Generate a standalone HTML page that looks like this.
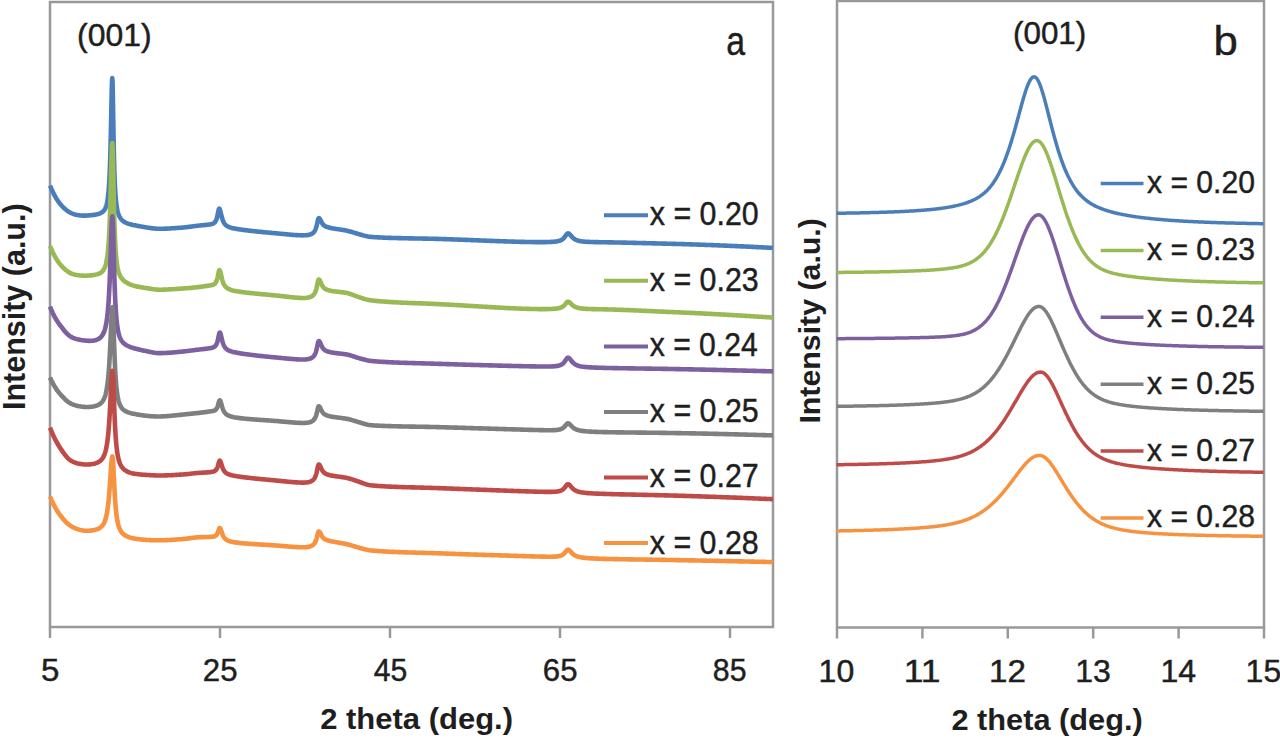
<!DOCTYPE html><html><head><meta charset="utf-8"><style>html,body{margin:0;padding:0;background:#fff;overflow:hidden}svg{display:block}text{font-family:"Liberation Sans",sans-serif;fill:#1e1e1e;stroke:#1e1e1e;stroke-width:0.45px}text.bd{stroke-width:0px;font-weight:bold}</style></head><body>
<svg width="1280" height="741" viewBox="0 0 1280 741">
<rect width="1280" height="741" fill="#fff"/>
<g>
<rect x="50" y="2" width="723" height="625" fill="none" stroke="#999999" stroke-width="2.5"/>
<line x1="50" y1="627" x2="50" y2="638" stroke="#999999" stroke-width="2.5"/>
<line x1="220" y1="627" x2="220" y2="638" stroke="#999999" stroke-width="2.5"/>
<line x1="390" y1="627" x2="390" y2="638" stroke="#999999" stroke-width="2.5"/>
<line x1="560" y1="627" x2="560" y2="638" stroke="#999999" stroke-width="2.5"/>
<line x1="730" y1="627" x2="730" y2="638" stroke="#999999" stroke-width="2.5"/>
<rect x="837" y="1" width="427" height="626.5" fill="none" stroke="#999999" stroke-width="2.5"/>
<line x1="837.0" y1="627.5" x2="837.0" y2="638.5" stroke="#999999" stroke-width="2.5"/>
<line x1="922.4" y1="627.5" x2="922.4" y2="638.5" stroke="#999999" stroke-width="2.5"/>
<line x1="1007.8" y1="627.5" x2="1007.8" y2="638.5" stroke="#999999" stroke-width="2.5"/>
<line x1="1093.2" y1="627.5" x2="1093.2" y2="638.5" stroke="#999999" stroke-width="2.5"/>
<line x1="1178.6" y1="627.5" x2="1178.6" y2="638.5" stroke="#999999" stroke-width="2.5"/>
<line x1="1264.0" y1="627.5" x2="1264.0" y2="638.5" stroke="#999999" stroke-width="2.5"/>
<polyline fill="none" stroke="#4A7EBB" stroke-width="4.6" stroke-linejoin="round" stroke-linecap="butt" points="50.00,185.64 51.00,187.96 52.00,190.19 53.00,192.32 54.00,194.32 55.00,196.19 56.00,197.93 57.00,199.55 58.00,201.04 59.00,202.43 60.00,203.71 61.00,204.90 62.00,206.01 63.00,207.05 64.00,208.02 65.00,208.93 66.00,209.78 67.00,210.56 68.00,211.28 69.00,211.92 70.00,212.50 71.00,213.00 72.00,213.44 73.00,213.82 74.00,214.15 75.00,214.44 76.00,214.69 77.00,214.91 78.00,215.10 79.00,215.27 80.00,215.40 81.00,215.50 82.00,215.57 83.00,215.61 84.00,215.63 85.00,215.62 86.00,215.59 87.00,215.54 88.00,215.48 89.00,215.40 90.00,215.32 91.00,215.22 92.00,215.11 93.00,214.99 94.00,214.85 95.00,214.69 96.00,214.50 97.00,214.29 98.00,214.03 99.00,213.72 100.00,213.35 100.30,213.23 100.55,213.12 100.80,213.00 101.00,212.90 101.05,212.87 101.30,212.74 101.55,212.60 101.80,212.44 102.00,212.31 102.05,212.28 102.30,212.11 102.55,211.92 102.80,211.71 103.00,211.54 103.05,211.49 103.30,211.26 103.55,211.00 103.80,210.71 104.00,210.47 104.05,210.40 104.30,210.06 104.55,209.69 104.80,209.28 105.00,208.92 105.05,208.83 105.30,208.32 105.55,207.77 105.80,207.14 106.00,206.59 106.05,206.45 106.30,205.66 106.55,204.79 106.80,203.79 107.00,202.90 107.05,202.67 107.30,201.39 107.55,199.93 107.80,198.25 108.00,196.73 108.05,196.33 108.30,194.10 108.55,191.51 108.80,188.49 109.00,185.71 109.05,184.96 109.30,180.80 109.55,175.91 109.80,170.13 110.00,164.77 110.05,163.31 110.30,155.31 110.55,145.99 110.80,135.33 111.00,125.93 111.05,123.49 111.30,110.93 111.55,98.61 111.80,87.92 112.00,81.70 112.05,80.57 112.30,77.99 112.55,81.90 112.80,92.30 113.00,103.51 113.05,106.52 113.30,121.83 113.55,136.36 113.80,149.19 114.00,158.06 114.05,160.09 114.30,169.17 114.55,176.66 114.80,182.84 115.00,187.00 115.05,187.95 115.30,192.20 115.55,195.75 115.80,198.75 116.00,200.82 116.05,201.30 116.30,203.48 116.55,205.36 116.80,207.00 117.00,208.16 117.05,208.43 117.30,209.69 117.55,210.81 117.80,211.80 118.00,212.52 118.05,212.69 118.30,213.50 118.55,214.23 118.80,214.89 119.00,215.38 119.05,215.50 119.30,216.06 119.55,216.57 119.80,217.04 120.00,217.40 120.05,217.48 120.30,217.89 120.55,218.27 120.80,218.63 121.00,218.89 121.05,218.96 121.30,219.27 121.55,219.56 121.80,219.84 122.00,220.05 122.05,220.10 122.30,220.35 122.55,220.58 122.80,220.80 123.00,220.97 123.05,221.01 123.30,221.20 123.55,221.39 123.80,221.57 124.00,221.71 124.05,221.74 125.00,222.31 126.00,222.81 127.00,223.24 128.00,223.60 129.00,223.91 130.00,224.19 131.00,224.45 132.00,224.69 133.00,224.91 134.00,225.13 135.00,225.34 136.00,225.54 137.00,225.74 138.00,225.93 139.00,226.12 140.00,226.31 141.00,226.49 142.00,226.67 143.00,226.84 144.00,227.02 145.00,227.18 146.00,227.34 147.00,227.50 148.00,227.66 149.00,227.81 150.00,227.96 151.00,228.10 152.00,228.24 153.00,228.37 154.00,228.48 155.00,228.58 156.00,228.65 157.00,228.71 158.00,228.74 159.00,228.76 160.00,228.77 161.00,228.76 162.00,228.75 163.00,228.72 164.00,228.70 165.00,228.66 166.00,228.62 167.00,228.58 168.00,228.53 169.00,228.48 170.00,228.43 171.00,228.37 172.00,228.31 173.00,228.25 174.00,228.19 175.00,228.12 176.00,228.05 177.00,227.98 178.00,227.90 179.00,227.83 180.00,227.75 181.00,227.67 182.00,227.59 183.00,227.51 184.00,227.42 185.00,227.33 186.00,227.23 187.00,227.12 188.00,227.00 189.00,226.88 190.00,226.74 191.00,226.61 192.00,226.47 193.00,226.32 194.00,226.18 195.00,226.05 196.00,225.92 197.00,225.79 198.00,225.68 199.00,225.57 200.00,225.47 201.00,225.37 202.00,225.28 203.00,225.18 204.00,225.09 205.00,225.00 206.00,224.90 207.00,224.80 207.30,224.77 207.55,224.74 207.80,224.71 208.00,224.69 208.05,224.68 208.30,224.65 208.55,224.62 208.80,224.59 209.00,224.56 209.05,224.55 209.30,224.52 209.55,224.48 209.80,224.44 210.00,224.41 210.05,224.40 210.30,224.36 210.55,224.32 210.80,224.27 211.00,224.23 211.05,224.21 211.30,224.16 211.55,224.10 211.80,224.03 212.00,223.97 212.05,223.96 212.30,223.88 212.55,223.79 212.80,223.69 213.00,223.60 213.05,223.58 213.30,223.46 213.55,223.32 213.80,223.17 214.00,223.03 214.05,222.99 214.30,222.79 214.55,222.57 214.80,222.31 215.00,222.08 215.05,222.02 215.30,221.68 215.55,221.29 215.80,220.84 216.00,220.44 216.05,220.33 216.30,219.74 216.55,219.05 216.80,218.27 217.00,217.57 217.05,217.38 217.30,216.37 217.55,215.26 217.80,214.05 218.00,213.04 218.05,212.78 218.30,211.53 218.55,210.38 218.80,209.44 219.00,208.93 219.05,208.84 219.30,208.66 219.55,208.86 219.80,209.32 220.00,209.86 220.05,210.01 220.30,210.89 220.55,211.89 220.80,212.96 221.00,213.83 221.05,214.05 221.30,215.12 221.55,216.15 221.80,217.12 222.00,217.84 222.05,218.02 222.30,218.84 222.55,219.60 222.80,220.29 223.00,220.80 223.05,220.92 223.30,221.49 223.55,222.01 223.80,222.48 224.00,222.83 224.05,222.91 224.30,223.30 224.55,223.66 224.80,223.99 225.00,224.23 225.05,224.29 225.30,224.56 225.55,224.82 225.80,225.05 226.00,225.23 226.05,225.27 226.30,225.47 226.55,225.66 226.80,225.84 227.00,225.97 227.05,226.00 227.30,226.15 227.55,226.30 227.80,226.43 228.00,226.54 228.05,226.56 228.30,226.68 228.55,226.80 228.80,226.91 229.00,226.99 229.05,227.01 229.30,227.11 229.55,227.21 229.80,227.30 230.00,227.36 230.05,227.38 230.30,227.46 230.55,227.54 230.80,227.62 231.00,227.68 231.05,227.69 232.00,227.95 233.00,228.19 234.00,228.41 235.00,228.61 236.00,228.80 237.00,228.97 238.00,229.14 239.00,229.29 240.00,229.44 241.00,229.59 242.00,229.73 243.00,229.87 244.00,230.00 245.00,230.13 246.00,230.25 247.00,230.38 248.00,230.50 249.00,230.61 250.00,230.73 251.00,230.84 252.00,230.96 253.00,231.07 254.00,231.18 255.00,231.28 256.00,231.39 257.00,231.49 258.00,231.60 259.00,231.70 260.00,231.80 261.00,231.90 262.00,232.00 263.00,232.09 264.00,232.19 265.00,232.29 266.00,232.38 267.00,232.48 268.00,232.57 269.00,232.66 270.00,232.75 271.00,232.84 272.00,232.93 273.00,233.02 274.00,233.11 275.00,233.21 276.00,233.30 277.00,233.39 278.00,233.48 279.00,233.58 280.00,233.67 281.00,233.77 282.00,233.87 283.00,233.97 284.00,234.06 285.00,234.16 286.00,234.26 287.00,234.35 288.00,234.45 289.00,234.54 290.00,234.63 291.00,234.71 292.00,234.80 293.00,234.88 294.00,234.95 295.00,235.02 296.00,235.09 297.00,235.15 298.00,235.20 299.00,235.25 300.00,235.28 301.00,235.31 302.00,235.33 303.00,235.33 304.00,235.32 305.00,235.28 306.00,235.23 306.70,235.16 306.95,235.14 307.00,235.13 307.20,235.11 307.45,235.08 307.70,235.04 307.95,235.00 308.00,235.00 308.20,234.96 308.45,234.92 308.70,234.87 308.95,234.82 309.00,234.80 309.20,234.76 309.45,234.69 309.70,234.63 309.95,234.55 310.00,234.54 310.20,234.47 310.45,234.39 310.70,234.29 310.95,234.19 311.00,234.17 311.20,234.08 311.45,233.96 311.70,233.84 311.95,233.70 312.00,233.67 312.20,233.54 312.45,233.38 312.70,233.20 312.95,233.00 313.00,232.96 313.20,232.79 313.45,232.55 313.70,232.29 313.95,232.00 314.00,231.93 314.20,231.67 314.45,231.32 314.70,230.92 314.95,230.48 315.00,230.38 315.20,229.98 315.45,229.42 315.70,228.80 315.95,228.10 316.00,227.95 316.20,227.31 316.45,226.44 316.70,225.47 316.95,224.43 317.00,224.21 317.20,223.31 317.45,222.16 317.70,221.03 317.95,219.98 318.00,219.79 318.20,219.10 318.45,218.48 318.70,218.18 318.95,218.11 319.00,218.11 319.20,218.18 319.45,218.37 319.70,218.67 319.95,219.05 320.00,219.13 320.20,219.50 320.45,219.99 320.70,220.50 320.95,221.01 321.00,221.12 321.20,221.52 321.45,222.02 321.70,222.49 321.95,222.93 322.00,223.01 322.20,223.33 322.45,223.71 322.70,224.06 322.95,224.37 323.00,224.43 323.20,224.66 323.45,224.92 323.70,225.16 323.95,225.38 324.00,225.42 324.20,225.57 324.45,225.75 324.70,225.92 324.95,226.07 325.00,226.09 325.20,226.20 325.45,226.33 325.70,226.45 325.95,226.56 326.00,226.58 326.20,226.67 326.45,226.76 326.70,226.86 326.95,226.94 327.00,226.96 327.20,227.03 327.45,227.11 327.70,227.19 327.95,227.26 328.00,227.28 328.20,227.33 328.45,227.40 328.70,227.47 328.95,227.54 329.00,227.55 329.20,227.60 329.45,227.66 329.70,227.72 329.95,227.78 330.00,227.79 330.20,227.84 330.45,227.89 331.00,228.01 332.00,228.21 333.00,228.40 334.00,228.57 335.00,228.74 336.00,228.90 337.00,229.05 338.00,229.20 339.00,229.35 340.00,229.50 341.00,229.65 342.00,229.80 343.00,229.96 344.00,230.12 345.00,230.30 346.00,230.50 347.00,230.71 348.00,230.94 349.00,231.19 350.00,231.46 351.00,231.74 352.00,232.04 353.00,232.34 354.00,232.65 355.00,232.95 356.00,233.26 357.00,233.56 358.00,233.86 359.00,234.16 360.00,234.46 361.00,234.76 362.00,235.05 363.00,235.34 364.00,235.61 365.00,235.87 366.00,236.11 367.00,236.32 368.00,236.51 369.00,236.67 370.00,236.80 371.00,236.91 372.00,237.00 373.00,237.08 374.00,237.14 375.00,237.21 376.00,237.26 377.00,237.32 378.00,237.37 379.00,237.42 380.00,237.47 381.00,237.51 382.00,237.56 383.00,237.60 384.00,237.64 385.00,237.68 386.00,237.72 387.00,237.76 388.00,237.80 389.00,237.83 390.00,237.87 391.00,237.90 392.00,237.93 393.00,237.96 394.00,237.99 395.00,238.02 396.00,238.04 397.00,238.07 398.00,238.10 399.00,238.12 400.00,238.15 401.00,238.17 402.00,238.19 403.00,238.21 404.00,238.23 405.00,238.26 406.00,238.28 407.00,238.30 408.00,238.32 409.00,238.33 410.00,238.35 411.00,238.37 412.00,238.39 413.00,238.41 414.00,238.43 415.00,238.44 416.00,238.46 417.00,238.48 418.00,238.50 419.00,238.51 420.00,238.53 421.00,238.55 422.00,238.57 423.00,238.59 424.00,238.60 425.00,238.62 426.00,238.64 427.00,238.66 428.00,238.68 429.00,238.70 430.00,238.73 431.00,238.75 432.00,238.77 433.00,238.79 434.00,238.82 435.00,238.84 436.00,238.87 437.00,238.89 438.00,238.92 439.00,238.95 440.00,238.98 441.00,239.01 442.00,239.03 443.00,239.07 444.00,239.10 445.00,239.13 446.00,239.16 447.00,239.19 448.00,239.23 449.00,239.26 450.00,239.29 451.00,239.33 452.00,239.36 453.00,239.40 454.00,239.43 455.00,239.47 456.00,239.50 457.00,239.54 458.00,239.58 459.00,239.62 460.00,239.65 461.00,239.69 462.00,239.73 463.00,239.77 464.00,239.80 465.00,239.84 466.00,239.88 467.00,239.92 468.00,239.96 469.00,240.00 470.00,240.04 471.00,240.08 472.00,240.12 473.00,240.16 474.00,240.20 475.00,240.24 476.00,240.28 477.00,240.32 478.00,240.35 479.00,240.39 480.00,240.43 481.00,240.47 482.00,240.51 483.00,240.55 484.00,240.59 485.00,240.63 486.00,240.67 487.00,240.71 488.00,240.75 489.00,240.79 490.00,240.83 491.00,240.87 492.00,240.90 493.00,240.94 494.00,240.98 495.00,241.02 496.00,241.06 497.00,241.09 498.00,241.13 499.00,241.17 500.00,241.20 501.00,241.24 502.00,241.27 503.00,241.31 504.00,241.34 505.00,241.38 506.00,241.41 507.00,241.44 508.00,241.48 509.00,241.51 510.00,241.54 511.00,241.57 512.00,241.60 513.00,241.63 514.00,241.66 515.00,241.69 516.00,241.72 517.00,241.75 518.00,241.77 519.00,241.80 520.00,241.83 521.00,241.85 522.00,241.87 523.00,241.90 524.00,241.92 525.00,241.94 526.00,241.96 527.00,241.98 528.00,242.00 529.00,242.02 530.00,242.03 531.00,242.05 532.00,242.06 533.00,242.08 534.00,242.09 535.00,242.10 536.00,242.11 537.00,242.11 538.00,242.12 539.00,242.12 540.00,242.12 541.00,242.12 542.00,242.12 543.00,242.11 544.00,242.10 545.00,242.09 546.00,242.08 547.00,242.05 548.00,242.03 549.00,242.00 550.00,241.96 551.00,241.92 552.00,241.86 553.00,241.79 554.00,241.71 555.00,241.61 556.00,241.49 556.25,241.46 556.50,241.42 556.75,241.38 557.00,241.34 557.25,241.30 557.50,241.25 557.75,241.20 558.00,241.15 558.25,241.10 558.50,241.04 558.75,240.98 559.00,240.91 559.25,240.84 559.50,240.76 559.75,240.68 560.00,240.59 560.25,240.50 560.50,240.40 560.75,240.29 561.00,240.18 561.25,240.05 561.50,239.92 561.75,239.78 562.00,239.62 562.25,239.46 562.50,239.28 562.75,239.09 563.00,238.88 563.25,238.66 563.50,238.42 563.75,238.17 564.00,237.89 564.25,237.60 564.50,237.30 564.75,236.97 565.00,236.63 565.25,236.28 565.50,235.92 565.75,235.56 566.00,235.19 566.25,234.84 566.50,234.50 566.75,234.19 567.00,233.92 567.25,233.70 567.50,233.53 567.75,233.43 568.00,233.39 568.25,233.42 568.50,233.48 568.75,233.59 569.00,233.74 569.25,233.92 569.50,234.14 569.75,234.38 570.00,234.64 570.25,234.91 570.50,235.19 570.75,235.48 571.00,235.78 571.25,236.07 571.50,236.35 571.75,236.63 572.00,236.91 572.25,237.17 572.50,237.42 572.75,237.66 573.00,237.89 573.25,238.11 573.50,238.32 573.75,238.52 574.00,238.71 574.25,238.88 574.50,239.05 574.75,239.21 575.00,239.35 575.25,239.49 575.50,239.63 575.75,239.75 576.00,239.87 576.25,239.98 576.50,240.08 576.75,240.18 577.00,240.27 577.25,240.36 577.50,240.44 577.75,240.52 578.00,240.59 578.25,240.66 578.50,240.73 578.75,240.79 579.00,240.85 579.25,240.91 579.50,240.96 579.75,241.01 580.00,241.06 581.00,241.23 582.00,241.38 583.00,241.49 584.00,241.59 585.00,241.68 586.00,241.75 587.00,241.81 588.00,241.87 589.00,241.91 590.00,241.95 591.00,241.99 592.00,242.02 593.00,242.05 594.00,242.08 595.00,242.10 596.00,242.12 597.00,242.14 598.00,242.16 599.00,242.18 600.00,242.20 601.00,242.22 602.00,242.23 603.00,242.25 604.00,242.27 605.00,242.28 606.00,242.30 607.00,242.32 608.00,242.33 609.00,242.35 610.00,242.37 611.00,242.38 612.00,242.40 613.00,242.42 614.00,242.44 615.00,242.46 616.00,242.47 617.00,242.49 618.00,242.51 619.00,242.53 620.00,242.55 621.00,242.57 622.00,242.59 623.00,242.61 624.00,242.63 625.00,242.65 626.00,242.67 627.00,242.70 628.00,242.72 629.00,242.74 630.00,242.76 631.00,242.79 632.00,242.81 633.00,242.83 634.00,242.85 635.00,242.88 636.00,242.90 637.00,242.93 638.00,242.95 639.00,242.98 640.00,243.00 641.00,243.02 642.00,243.05 643.00,243.08 644.00,243.10 645.00,243.13 646.00,243.15 647.00,243.18 648.00,243.20 649.00,243.23 650.00,243.26 651.00,243.28 652.00,243.31 653.00,243.33 654.00,243.36 655.00,243.39 656.00,243.41 657.00,243.44 658.00,243.46 659.00,243.49 660.00,243.52 661.00,243.54 662.00,243.57 663.00,243.60 664.00,243.62 665.00,243.65 666.00,243.67 667.00,243.70 668.00,243.72 669.00,243.75 670.00,243.78 671.00,243.80 672.00,243.83 673.00,243.85 674.00,243.88 675.00,243.91 676.00,243.93 677.00,243.96 678.00,243.99 679.00,244.02 680.00,244.04 681.00,244.07 682.00,244.10 683.00,244.13 684.00,244.16 685.00,244.19 686.00,244.22 687.00,244.25 688.00,244.28 689.00,244.31 690.00,244.35 691.00,244.38 692.00,244.41 693.00,244.44 694.00,244.47 695.00,244.51 696.00,244.54 697.00,244.57 698.00,244.61 699.00,244.64 700.00,244.68 701.00,244.71 702.00,244.75 703.00,244.78 704.00,244.82 705.00,244.85 706.00,244.89 707.00,244.93 708.00,244.96 709.00,245.00 710.00,245.04 711.00,245.07 712.00,245.11 713.00,245.15 714.00,245.19 715.00,245.23 716.00,245.27 717.00,245.31 718.00,245.35 719.00,245.39 720.00,245.43 721.00,245.47 722.00,245.51 723.00,245.55 724.00,245.59 725.00,245.63 726.00,245.67 727.00,245.71 728.00,245.76 729.00,245.80 730.00,245.84 731.00,245.88 732.00,245.93 733.00,245.97 734.00,246.01 735.00,246.06 736.00,246.10 737.00,246.15 738.00,246.19 739.00,246.24 740.00,246.28 741.00,246.33 742.00,246.37 743.00,246.42 744.00,246.46 745.00,246.51 746.00,246.56 747.00,246.60 748.00,246.65 749.00,246.70 750.00,246.75 751.00,246.79 752.00,246.84 753.00,246.89 754.00,246.94 755.00,246.99 756.00,247.03 757.00,247.08 758.00,247.13 759.00,247.18 760.00,247.23 761.00,247.28 762.00,247.33 763.00,247.38 764.00,247.43 765.00,247.48 766.00,247.53 767.00,247.58 768.00,247.63 769.00,247.68 770.00,247.72 771.00,247.77 772.00,247.80 773.00,247.83"/>
<polyline fill="none" stroke="#98B954" stroke-width="4.6" stroke-linejoin="round" stroke-linecap="butt" points="50.00,246.08 51.00,248.40 52.00,250.64 53.00,252.76 54.00,254.76 55.00,256.63 56.00,258.37 57.00,259.98 58.00,261.47 59.00,262.85 60.00,264.14 61.00,265.33 62.00,266.44 63.00,267.48 64.00,268.45 65.00,269.36 66.00,270.21 67.00,270.99 68.00,271.70 69.00,272.34 70.00,272.89 71.00,273.37 72.00,273.78 73.00,274.12 74.00,274.40 75.00,274.64 76.00,274.85 77.00,275.03 78.00,275.18 79.00,275.31 80.00,275.42 81.00,275.52 82.00,275.59 83.00,275.64 84.00,275.68 85.00,275.69 86.00,275.69 87.00,275.67 88.00,275.62 89.00,275.57 90.00,275.49 91.00,275.39 92.00,275.28 93.00,275.15 94.00,275.00 95.00,274.82 96.00,274.61 97.00,274.36 98.00,274.05 99.00,273.67 100.00,273.19 100.30,273.02 100.55,272.87 100.80,272.71 101.00,272.57 101.05,272.53 101.30,272.34 101.55,272.14 101.80,271.93 102.00,271.74 102.05,271.69 102.30,271.44 102.55,271.17 102.80,270.87 103.00,270.62 103.05,270.55 103.30,270.21 103.55,269.83 103.80,269.42 104.00,269.06 104.05,268.97 104.30,268.48 104.55,267.94 104.80,267.35 105.00,266.84 105.05,266.71 105.30,265.99 105.55,265.20 105.80,264.33 106.00,263.57 106.05,263.36 106.30,262.28 106.55,261.08 106.80,259.74 107.00,258.54 107.05,258.22 107.30,256.52 107.55,254.61 107.80,252.44 108.00,250.49 108.05,249.97 108.30,247.17 108.55,243.96 108.80,240.31 109.00,237.00 109.05,236.12 109.30,231.32 109.55,225.82 109.80,219.56 110.00,213.94 110.05,212.45 110.30,204.46 110.55,195.63 110.80,186.07 111.00,178.10 111.05,176.09 111.30,166.18 111.55,157.05 111.80,149.58 112.00,145.40 112.05,144.66 112.30,142.99 112.55,145.66 112.80,152.96 113.00,161.22 113.05,163.50 113.30,175.64 113.55,187.99 113.80,199.65 114.00,208.17 114.05,210.17 114.30,219.37 114.55,227.31 114.80,234.09 115.00,238.77 115.05,239.86 115.30,244.77 115.55,248.96 115.80,252.55 116.00,255.05 116.05,255.64 116.30,258.31 116.55,260.62 116.80,262.65 117.00,264.09 117.05,264.43 117.30,266.00 117.55,267.40 117.80,268.64 118.00,269.54 118.05,269.75 118.30,270.75 118.55,271.66 118.80,272.48 119.00,273.08 119.05,273.23 119.30,273.91 119.55,274.54 119.80,275.11 120.00,275.55 120.05,275.65 120.30,276.14 120.55,276.60 120.80,277.03 121.00,277.36 121.05,277.44 121.30,277.81 121.55,278.16 121.80,278.50 122.00,278.75 122.05,278.81 122.30,279.11 122.55,279.39 122.80,279.66 123.00,279.86 123.05,279.91 123.30,280.16 123.55,280.39 123.80,280.61 124.00,280.78 124.05,280.83 125.00,281.56 126.00,282.24 127.00,282.83 128.00,283.36 129.00,283.85 130.00,284.28 131.00,284.68 132.00,285.04 133.00,285.38 134.00,285.68 135.00,285.96 136.00,286.21 137.00,286.44 138.00,286.66 139.00,286.87 140.00,287.06 141.00,287.24 142.00,287.41 143.00,287.58 144.00,287.74 145.00,287.90 146.00,288.06 147.00,288.22 148.00,288.38 149.00,288.54 150.00,288.71 151.00,288.87 152.00,289.03 153.00,289.19 154.00,289.33 155.00,289.45 156.00,289.54 157.00,289.62 158.00,289.67 159.00,289.69 160.00,289.70 161.00,289.70 162.00,289.69 163.00,289.66 164.00,289.64 165.00,289.60 166.00,289.56 167.00,289.52 168.00,289.47 169.00,289.42 170.00,289.36 171.00,289.31 172.00,289.25 173.00,289.18 174.00,289.12 175.00,289.05 176.00,288.98 177.00,288.91 178.00,288.84 179.00,288.77 180.00,288.70 181.00,288.63 182.00,288.55 183.00,288.48 184.00,288.41 185.00,288.33 186.00,288.26 187.00,288.18 188.00,288.10 189.00,288.01 190.00,287.93 191.00,287.84 192.00,287.74 193.00,287.65 194.00,287.55 195.00,287.45 196.00,287.34 197.00,287.24 198.00,287.12 199.00,287.01 200.00,286.88 201.00,286.75 202.00,286.61 203.00,286.47 204.00,286.32 205.00,286.16 206.00,286.01 207.00,285.86 207.50,285.79 207.75,285.75 208.00,285.71 208.25,285.68 208.50,285.64 208.75,285.61 209.00,285.57 209.25,285.53 209.50,285.49 209.75,285.46 210.00,285.42 210.25,285.38 210.50,285.34 210.75,285.30 211.00,285.25 211.25,285.20 211.50,285.15 211.75,285.10 212.00,285.04 212.25,284.98 212.50,284.91 212.75,284.83 213.00,284.74 213.25,284.64 213.50,284.53 213.75,284.41 214.00,284.27 214.25,284.11 214.50,283.93 214.75,283.72 215.00,283.48 215.25,283.20 215.50,282.88 215.75,282.51 216.00,282.08 216.25,281.58 216.50,281.01 216.75,280.34 217.00,279.58 217.25,278.70 217.50,277.72 217.75,276.62 218.00,275.42 218.25,274.18 218.50,272.94 218.75,271.80 219.00,270.89 219.25,270.31 219.50,270.15 219.75,270.37 220.00,270.86 220.25,271.58 220.50,272.48 220.75,273.51 221.00,274.61 221.25,275.73 221.50,276.83 221.75,277.88 222.00,278.87 222.25,279.80 222.50,280.65 222.75,281.44 223.00,282.15 223.25,282.80 223.50,283.40 223.75,283.93 224.00,284.43 224.25,284.87 224.50,285.28 224.75,285.66 225.00,286.00 225.25,286.32 225.50,286.61 225.75,286.88 226.00,287.13 226.25,287.36 226.50,287.58 226.75,287.78 227.00,287.97 227.25,288.14 227.50,288.31 227.75,288.46 228.00,288.61 228.25,288.74 228.50,288.87 228.75,289.00 229.00,289.11 229.25,289.23 229.50,289.33 229.75,289.43 230.00,289.53 230.25,289.62 230.50,289.71 230.75,289.79 231.00,289.87 231.25,289.95 232.00,290.17 233.00,290.43 234.00,290.67 235.00,290.88 236.00,291.08 237.00,291.26 238.00,291.43 239.00,291.59 240.00,291.74 241.00,291.89 242.00,292.03 243.00,292.17 244.00,292.30 245.00,292.42 246.00,292.54 247.00,292.66 248.00,292.78 249.00,292.89 250.00,293.00 251.00,293.11 252.00,293.21 253.00,293.31 254.00,293.42 255.00,293.51 256.00,293.61 257.00,293.71 258.00,293.81 259.00,293.90 260.00,293.99 261.00,294.09 262.00,294.18 263.00,294.27 264.00,294.37 265.00,294.46 266.00,294.55 267.00,294.64 268.00,294.73 269.00,294.83 270.00,294.92 271.00,295.02 272.00,295.11 273.00,295.21 274.00,295.30 275.00,295.40 276.00,295.51 277.00,295.61 278.00,295.72 279.00,295.82 280.00,295.94 281.00,296.05 282.00,296.16 283.00,296.28 284.00,296.39 285.00,296.51 286.00,296.63 287.00,296.74 288.00,296.86 289.00,296.97 290.00,297.08 291.00,297.18 292.00,297.28 293.00,297.38 294.00,297.48 295.00,297.56 296.00,297.65 297.00,297.72 298.00,297.79 299.00,297.85 300.00,297.90 301.00,297.93 302.00,297.96 303.00,297.97 304.00,297.96 305.00,297.93 306.00,297.87 306.70,297.80 306.95,297.77 307.00,297.76 307.20,297.74 307.45,297.70 307.70,297.67 307.95,297.62 308.00,297.61 308.20,297.58 308.45,297.53 308.70,297.47 308.95,297.41 309.00,297.40 309.20,297.35 309.45,297.28 309.70,297.20 309.95,297.12 310.00,297.11 310.20,297.03 310.45,296.94 310.70,296.84 310.95,296.73 311.00,296.70 311.20,296.60 311.45,296.47 311.70,296.33 311.95,296.18 312.00,296.15 312.20,296.02 312.45,295.84 312.70,295.64 312.95,295.43 313.00,295.38 313.20,295.19 313.45,294.94 313.70,294.65 313.95,294.34 314.00,294.27 314.20,294.00 314.45,293.61 314.70,293.19 314.95,292.71 315.00,292.61 315.20,292.18 315.45,291.58 315.70,290.91 315.95,290.16 316.00,290.00 316.20,289.32 316.45,288.38 316.70,287.35 316.95,286.23 317.00,285.99 317.20,285.03 317.45,283.80 317.70,282.59 317.95,281.47 318.00,281.27 318.20,280.54 318.45,279.88 318.70,279.57 318.95,279.52 319.00,279.53 319.20,279.62 319.45,279.85 319.70,280.19 319.95,280.63 320.00,280.73 320.20,281.14 320.45,281.70 320.70,282.27 320.95,282.86 321.00,282.98 321.20,283.44 321.45,284.00 321.70,284.53 321.95,285.03 322.00,285.12 322.20,285.50 322.45,285.93 322.70,286.33 322.95,286.69 323.00,286.76 323.20,287.02 323.45,287.33 323.70,287.60 323.95,287.86 324.00,287.90 324.20,288.09 324.45,288.30 324.70,288.49 324.95,288.67 325.00,288.70 325.20,288.83 325.45,288.98 325.70,289.12 325.95,289.25 326.00,289.28 326.20,289.37 326.45,289.49 326.70,289.59 326.95,289.69 327.00,289.71 327.20,289.79 327.45,289.88 327.70,289.97 327.95,290.05 328.00,290.06 328.20,290.13 328.45,290.20 328.70,290.27 328.95,290.34 329.00,290.35 329.20,290.41 329.45,290.47 329.70,290.53 329.95,290.59 330.00,290.60 330.20,290.65 330.45,290.70 331.00,290.82 332.00,291.01 333.00,291.17 334.00,291.32 335.00,291.45 336.00,291.57 337.00,291.69 338.00,291.80 339.00,291.90 340.00,292.01 341.00,292.12 342.00,292.23 343.00,292.35 344.00,292.48 345.00,292.64 346.00,292.82 347.00,293.04 348.00,293.29 349.00,293.57 350.00,293.89 351.00,294.23 352.00,294.59 353.00,294.96 354.00,295.34 355.00,295.72 356.00,296.09 357.00,296.46 358.00,296.81 359.00,297.16 360.00,297.51 361.00,297.84 362.00,298.17 363.00,298.49 364.00,298.80 365.00,299.09 366.00,299.36 367.00,299.61 368.00,299.83 369.00,300.03 370.00,300.20 371.00,300.35 372.00,300.48 373.00,300.60 374.00,300.71 375.00,300.81 376.00,300.91 377.00,301.00 378.00,301.09 379.00,301.18 380.00,301.27 381.00,301.35 382.00,301.43 383.00,301.51 384.00,301.58 385.00,301.66 386.00,301.73 387.00,301.80 388.00,301.86 389.00,301.93 390.00,301.99 391.00,302.05 392.00,302.11 393.00,302.17 394.00,302.23 395.00,302.28 396.00,302.34 397.00,302.39 398.00,302.44 399.00,302.49 400.00,302.54 401.00,302.59 402.00,302.63 403.00,302.68 404.00,302.72 405.00,302.77 406.00,302.81 407.00,302.85 408.00,302.89 409.00,302.93 410.00,302.97 411.00,303.01 412.00,303.05 413.00,303.08 414.00,303.12 415.00,303.16 416.00,303.20 417.00,303.23 418.00,303.27 419.00,303.31 420.00,303.34 421.00,303.38 422.00,303.42 423.00,303.46 424.00,303.49 425.00,303.53 426.00,303.57 427.00,303.61 428.00,303.65 429.00,303.69 430.00,303.73 431.00,303.77 432.00,303.81 433.00,303.85 434.00,303.90 435.00,303.94 436.00,303.98 437.00,304.03 438.00,304.08 439.00,304.13 440.00,304.18 441.00,304.23 442.00,304.28 443.00,304.33 444.00,304.38 445.00,304.43 446.00,304.49 447.00,304.54 448.00,304.60 449.00,304.65 450.00,304.71 451.00,304.76 452.00,304.82 453.00,304.88 454.00,304.93 455.00,304.99 456.00,305.05 457.00,305.11 458.00,305.17 459.00,305.23 460.00,305.28 461.00,305.34 462.00,305.40 463.00,305.46 464.00,305.52 465.00,305.58 466.00,305.65 467.00,305.71 468.00,305.77 469.00,305.83 470.00,305.89 471.00,305.95 472.00,306.01 473.00,306.07 474.00,306.13 475.00,306.20 476.00,306.26 477.00,306.32 478.00,306.38 479.00,306.44 480.00,306.50 481.00,306.56 482.00,306.62 483.00,306.68 484.00,306.74 485.00,306.80 486.00,306.86 487.00,306.92 488.00,306.98 489.00,307.04 490.00,307.10 491.00,307.16 492.00,307.22 493.00,307.27 494.00,307.33 495.00,307.39 496.00,307.44 497.00,307.50 498.00,307.55 499.00,307.61 500.00,307.66 501.00,307.72 502.00,307.77 503.00,307.82 504.00,307.87 505.00,307.93 506.00,307.98 507.00,308.03 508.00,308.08 509.00,308.12 510.00,308.17 511.00,308.22 512.00,308.27 513.00,308.31 514.00,308.36 515.00,308.40 516.00,308.44 517.00,308.48 518.00,308.53 519.00,308.57 520.00,308.60 521.00,308.64 522.00,308.68 523.00,308.71 524.00,308.75 525.00,308.78 526.00,308.81 527.00,308.85 528.00,308.88 529.00,308.90 530.00,308.93 531.00,308.96 532.00,308.98 533.00,309.00 534.00,309.02 535.00,309.04 536.00,309.06 537.00,309.07 538.00,309.09 539.00,309.10 540.00,309.11 541.00,309.11 542.00,309.12 543.00,309.12 544.00,309.12 545.00,309.11 546.00,309.10 547.00,309.09 548.00,309.07 549.00,309.05 550.00,309.02 551.00,308.98 552.00,308.93 553.00,308.88 554.00,308.81 555.00,308.73 556.00,308.62 556.25,308.59 556.50,308.56 556.75,308.53 557.00,308.49 557.25,308.46 557.50,308.42 557.75,308.38 558.00,308.33 558.25,308.28 558.50,308.23 558.75,308.18 559.00,308.12 559.25,308.06 559.50,308.00 559.75,307.93 560.00,307.85 560.25,307.77 560.50,307.69 560.75,307.60 561.00,307.50 561.25,307.39 561.50,307.28 561.75,307.16 562.00,307.02 562.25,306.88 562.50,306.73 562.75,306.57 563.00,306.39 563.25,306.20 563.50,305.99 563.75,305.78 564.00,305.54 564.25,305.30 564.50,305.03 564.75,304.76 565.00,304.47 565.25,304.16 565.50,303.86 565.75,303.54 566.00,303.23 566.25,302.93 566.50,302.64 566.75,302.38 567.00,302.15 567.25,301.95 567.50,301.81 567.75,301.72 568.00,301.69 568.25,301.71 568.50,301.77 568.75,301.86 569.00,301.99 569.25,302.15 569.50,302.33 569.75,302.53 570.00,302.76 570.25,302.99 570.50,303.23 570.75,303.48 571.00,303.73 571.25,303.98 571.50,304.23 571.75,304.47 572.00,304.70 572.25,304.92 572.50,305.14 572.75,305.35 573.00,305.54 573.25,305.73 573.50,305.91 573.75,306.08 574.00,306.24 574.25,306.39 574.50,306.53 574.75,306.67 575.00,306.79 575.25,306.91 575.50,307.02 575.75,307.13 576.00,307.23 576.25,307.33 576.50,307.41 576.75,307.50 577.00,307.58 577.25,307.65 577.50,307.72 577.75,307.79 578.00,307.85 578.25,307.91 578.50,307.97 578.75,308.02 579.00,308.08 579.25,308.12 579.50,308.17 579.75,308.21 580.00,308.25 581.00,308.40 582.00,308.52 583.00,308.62 584.00,308.71 585.00,308.78 586.00,308.84 587.00,308.90 588.00,308.94 589.00,308.98 590.00,309.02 591.00,309.05 592.00,309.08 593.00,309.10 594.00,309.12 595.00,309.14 596.00,309.17 597.00,309.19 598.00,309.21 599.00,309.23 600.00,309.25 601.00,309.27 602.00,309.29 603.00,309.31 604.00,309.33 605.00,309.35 606.00,309.38 607.00,309.40 608.00,309.43 609.00,309.45 610.00,309.48 611.00,309.51 612.00,309.54 613.00,309.56 614.00,309.59 615.00,309.62 616.00,309.66 617.00,309.69 618.00,309.72 619.00,309.76 620.00,309.79 621.00,309.83 622.00,309.86 623.00,309.90 624.00,309.94 625.00,309.97 626.00,310.01 627.00,310.05 628.00,310.09 629.00,310.13 630.00,310.17 631.00,310.21 632.00,310.26 633.00,310.30 634.00,310.34 635.00,310.39 636.00,310.43 637.00,310.47 638.00,310.52 639.00,310.56 640.00,310.61 641.00,310.65 642.00,310.70 643.00,310.75 644.00,310.79 645.00,310.84 646.00,310.88 647.00,310.93 648.00,310.98 649.00,311.02 650.00,311.07 651.00,311.12 652.00,311.16 653.00,311.21 654.00,311.26 655.00,311.31 656.00,311.35 657.00,311.40 658.00,311.44 659.00,311.49 660.00,311.54 661.00,311.58 662.00,311.63 663.00,311.67 664.00,311.72 665.00,311.76 666.00,311.80 667.00,311.85 668.00,311.89 669.00,311.93 670.00,311.98 671.00,312.02 672.00,312.06 673.00,312.11 674.00,312.15 675.00,312.19 676.00,312.24 677.00,312.28 678.00,312.32 679.00,312.37 680.00,312.41 681.00,312.46 682.00,312.50 683.00,312.55 684.00,312.59 685.00,312.64 686.00,312.68 687.00,312.73 688.00,312.78 689.00,312.82 690.00,312.87 691.00,312.92 692.00,312.96 693.00,313.01 694.00,313.06 695.00,313.11 696.00,313.16 697.00,313.20 698.00,313.25 699.00,313.30 700.00,313.35 701.00,313.40 702.00,313.45 703.00,313.50 704.00,313.55 705.00,313.60 706.00,313.65 707.00,313.71 708.00,313.76 709.00,313.81 710.00,313.86 711.00,313.91 712.00,313.97 713.00,314.02 714.00,314.07 715.00,314.12 716.00,314.18 717.00,314.23 718.00,314.28 719.00,314.34 720.00,314.39 721.00,314.45 722.00,314.50 723.00,314.56 724.00,314.61 725.00,314.67 726.00,314.72 727.00,314.78 728.00,314.84 729.00,314.89 730.00,314.95 731.00,315.01 732.00,315.06 733.00,315.12 734.00,315.18 735.00,315.24 736.00,315.29 737.00,315.35 738.00,315.41 739.00,315.47 740.00,315.53 741.00,315.59 742.00,315.65 743.00,315.71 744.00,315.77 745.00,315.83 746.00,315.89 747.00,315.95 748.00,316.01 749.00,316.07 750.00,316.13 751.00,316.19 752.00,316.25 753.00,316.31 754.00,316.38 755.00,316.44 756.00,316.50 757.00,316.56 758.00,316.63 759.00,316.69 760.00,316.75 761.00,316.82 762.00,316.88 763.00,316.94 764.00,317.01 765.00,317.07 766.00,317.14 767.00,317.20 768.00,317.26 769.00,317.32 770.00,317.38 771.00,317.43 772.00,317.48 773.00,317.51"/>
<polyline fill="none" stroke="#7D60A0" stroke-width="4.6" stroke-linejoin="round" stroke-linecap="butt" points="50.00,306.69 51.00,309.08 52.00,311.36 53.00,313.53 54.00,315.55 55.00,317.44 56.00,319.18 57.00,320.80 58.00,322.30 59.00,323.72 60.00,325.08 61.00,326.40 62.00,327.69 63.00,328.96 64.00,330.21 65.00,331.42 66.00,332.57 67.00,333.63 68.00,334.60 69.00,335.46 70.00,336.20 71.00,336.83 72.00,337.36 73.00,337.82 74.00,338.22 75.00,338.57 76.00,338.88 77.00,339.15 78.00,339.40 79.00,339.63 80.00,339.83 81.00,340.02 82.00,340.18 83.00,340.33 84.00,340.46 85.00,340.57 86.00,340.66 87.00,340.74 88.00,340.80 89.00,340.83 90.00,340.84 91.00,340.82 92.00,340.76 93.00,340.66 94.00,340.51 95.00,340.31 96.00,340.04 97.00,339.68 98.00,339.23 99.00,338.65 100.00,337.91 100.40,337.56 100.65,337.32 100.90,337.07 101.00,336.97 101.15,336.80 101.40,336.52 101.65,336.21 101.90,335.88 102.00,335.75 102.15,335.53 102.40,335.16 102.65,334.75 102.90,334.32 103.00,334.14 103.15,333.85 103.40,333.35 103.65,332.81 103.90,332.22 104.00,331.97 104.15,331.59 104.40,330.90 104.65,330.15 104.90,329.34 105.00,328.99 105.15,328.45 105.40,327.48 105.65,326.42 105.90,325.26 106.00,324.76 106.15,323.98 106.40,322.58 106.65,321.02 106.90,319.31 107.00,318.57 107.15,317.41 107.40,315.30 107.65,312.95 107.90,310.34 108.00,309.22 108.15,307.43 108.40,304.18 108.65,300.56 108.90,296.51 109.00,294.77 109.15,292.00 109.40,286.99 109.65,281.45 109.90,275.35 110.00,272.76 110.15,268.72 110.40,261.60 110.65,254.11 110.90,246.42 111.00,243.35 111.15,238.82 111.40,231.66 111.65,225.39 111.90,220.47 112.00,218.99 112.15,217.34 112.40,216.29 112.65,218.14 112.90,223.29 113.00,226.12 113.15,231.00 113.40,240.29 113.65,250.23 113.90,260.10 114.00,263.91 114.15,269.43 114.40,277.95 114.65,285.58 114.90,292.32 115.00,294.77 115.15,298.21 115.40,303.35 115.65,307.83 115.90,311.72 116.00,313.14 116.15,315.13 116.40,318.10 116.65,320.71 116.90,323.01 117.00,323.85 117.15,325.04 117.40,326.84 117.65,328.44 117.90,329.88 118.00,330.41 118.15,331.16 118.40,332.32 118.65,333.37 118.90,334.32 119.00,334.67 119.15,335.18 119.40,335.97 119.65,336.69 119.90,337.35 120.00,337.60 120.15,337.96 120.40,338.52 120.65,339.04 120.90,339.52 121.00,339.70 121.15,339.96 121.40,340.38 121.65,340.77 121.90,341.14 122.00,341.28 122.15,341.48 122.40,341.80 122.65,342.10 122.90,342.39 123.00,342.50 123.15,342.66 123.40,342.91 123.65,343.15 123.90,343.38 124.00,343.47 124.15,343.60 125.00,344.27 126.00,344.94 127.00,345.52 128.00,346.02 129.00,346.47 130.00,346.88 131.00,347.25 132.00,347.59 133.00,347.91 134.00,348.21 135.00,348.50 136.00,348.77 137.00,349.03 138.00,349.28 139.00,349.53 140.00,349.76 141.00,349.99 142.00,350.22 143.00,350.44 144.00,350.65 145.00,350.87 146.00,351.08 147.00,351.29 148.00,351.49 149.00,351.70 150.00,351.91 151.00,352.12 152.00,352.32 153.00,352.50 154.00,352.67 155.00,352.82 156.00,352.94 157.00,353.03 158.00,353.08 159.00,353.12 160.00,353.13 161.00,353.12 162.00,353.10 163.00,353.07 164.00,353.04 165.00,352.99 166.00,352.94 167.00,352.88 168.00,352.82 169.00,352.75 170.00,352.68 171.00,352.60 172.00,352.52 173.00,352.44 174.00,352.35 175.00,352.26 176.00,352.17 177.00,352.08 178.00,351.99 179.00,351.89 180.00,351.80 181.00,351.70 182.00,351.60 183.00,351.50 184.00,351.40 185.00,351.30 186.00,351.19 187.00,351.08 188.00,350.96 189.00,350.83 190.00,350.70 191.00,350.57 192.00,350.44 193.00,350.30 194.00,350.17 195.00,350.03 196.00,349.90 197.00,349.78 198.00,349.66 199.00,349.54 200.00,349.43 201.00,349.32 202.00,349.21 203.00,349.10 204.00,348.99 205.00,348.87 206.00,348.76 207.00,348.63 207.80,348.53 208.00,348.50 208.05,348.49 208.30,348.46 208.55,348.42 208.80,348.39 209.00,348.36 209.05,348.35 209.30,348.31 209.55,348.27 209.80,348.23 210.00,348.19 210.05,348.19 210.30,348.14 210.55,348.09 210.80,348.05 211.00,348.00 211.05,347.99 211.30,347.94 211.55,347.88 211.80,347.82 212.00,347.77 212.05,347.75 212.30,347.68 212.55,347.60 212.80,347.52 213.00,347.44 213.05,347.42 213.30,347.32 213.55,347.21 213.80,347.08 214.00,346.97 214.05,346.94 214.30,346.79 214.55,346.61 214.80,346.41 215.00,346.24 215.05,346.19 215.30,345.93 215.55,345.64 215.80,345.31 216.00,345.01 216.05,344.93 216.30,344.49 216.55,343.98 216.80,343.40 217.00,342.87 217.05,342.73 217.30,341.96 217.55,341.08 217.80,340.09 218.00,339.22 218.05,339.00 218.30,337.81 218.55,336.57 218.80,335.34 219.00,334.42 219.05,334.21 219.30,333.30 219.55,332.71 219.80,332.54 220.00,332.67 220.05,332.74 220.30,333.20 220.55,333.89 220.80,334.76 221.00,335.54 221.05,335.75 221.30,336.80 221.55,337.88 221.80,338.94 222.00,339.76 222.05,339.96 222.30,340.91 222.55,341.81 222.80,342.63 223.00,343.24 223.05,343.38 223.30,344.07 223.55,344.69 223.80,345.26 224.00,345.68 224.05,345.78 224.30,346.24 224.55,346.67 224.80,347.06 225.00,347.35 225.05,347.42 225.30,347.75 225.55,348.05 225.80,348.32 226.00,348.53 226.05,348.58 226.30,348.82 226.55,349.04 226.80,349.24 227.00,349.39 227.05,349.43 227.30,349.61 227.55,349.78 227.80,349.93 228.00,350.05 228.05,350.08 228.30,350.22 228.55,350.35 228.80,350.47 229.00,350.57 229.05,350.59 229.30,350.70 229.55,350.81 229.80,350.91 230.00,350.99 230.05,351.01 230.30,351.10 230.55,351.19 230.80,351.27 231.00,351.34 231.05,351.35 231.30,351.43 231.55,351.51 232.00,351.64 233.00,351.91 234.00,352.15 235.00,352.37 236.00,352.58 237.00,352.77 238.00,352.95 239.00,353.13 240.00,353.29 241.00,353.45 242.00,353.61 243.00,353.76 244.00,353.91 245.00,354.05 246.00,354.19 247.00,354.32 248.00,354.46 249.00,354.59 250.00,354.72 251.00,354.84 252.00,354.97 253.00,355.09 254.00,355.21 255.00,355.33 256.00,355.44 257.00,355.56 258.00,355.67 259.00,355.78 260.00,355.89 261.00,356.00 262.00,356.11 263.00,356.21 264.00,356.32 265.00,356.42 266.00,356.52 267.00,356.62 268.00,356.72 269.00,356.82 270.00,356.92 271.00,357.01 272.00,357.11 273.00,357.20 274.00,357.30 275.00,357.39 276.00,357.49 277.00,357.58 278.00,357.68 279.00,357.77 280.00,357.87 281.00,357.97 282.00,358.07 283.00,358.17 284.00,358.26 285.00,358.36 286.00,358.46 287.00,358.55 288.00,358.65 289.00,358.74 290.00,358.83 291.00,358.91 292.00,358.99 293.00,359.07 294.00,359.15 295.00,359.22 296.00,359.28 297.00,359.34 298.00,359.39 299.00,359.43 300.00,359.46 301.00,359.49 302.00,359.50 303.00,359.50 304.00,359.48 305.00,359.44 306.00,359.38 306.70,359.31 306.95,359.28 307.00,359.27 307.20,359.25 307.45,359.21 307.70,359.17 307.95,359.13 308.00,359.12 308.20,359.08 308.45,359.03 308.70,358.98 308.95,358.92 309.00,358.91 309.20,358.85 309.45,358.78 309.70,358.71 309.95,358.63 310.00,358.61 310.20,358.54 310.45,358.44 310.70,358.34 310.95,358.23 311.00,358.21 311.20,358.11 311.45,357.98 311.70,357.84 311.95,357.69 312.00,357.66 312.20,357.52 312.45,357.35 312.70,357.15 312.95,356.94 313.00,356.89 313.20,356.70 313.45,356.45 313.70,356.17 313.95,355.86 314.00,355.79 314.20,355.51 314.45,355.13 314.70,354.71 314.95,354.23 315.00,354.13 315.20,353.70 315.45,353.11 315.70,352.44 315.95,351.69 316.00,351.53 316.20,350.86 316.45,349.93 316.70,348.90 316.95,347.79 317.00,347.55 317.20,346.60 317.45,345.37 317.70,344.17 317.95,343.06 318.00,342.85 318.20,342.13 318.45,341.48 318.70,341.17 318.95,341.12 319.00,341.13 319.20,341.21 319.45,341.44 319.70,341.78 319.95,342.22 320.00,342.31 320.20,342.72 320.45,343.27 320.70,343.85 320.95,344.43 321.00,344.54 321.20,345.00 321.45,345.56 321.70,346.08 321.95,346.58 322.00,346.68 322.20,347.04 322.45,347.47 322.70,347.87 322.95,348.23 323.00,348.30 323.20,348.56 323.45,348.86 323.70,349.14 323.95,349.39 324.00,349.43 324.20,349.61 324.45,349.82 324.70,350.02 324.95,350.19 325.00,350.22 325.20,350.35 325.45,350.50 325.70,350.64 325.95,350.77 326.00,350.79 326.20,350.89 326.45,351.00 326.70,351.11 326.95,351.21 327.00,351.23 327.20,351.30 327.45,351.39 327.70,351.48 327.95,351.56 328.00,351.58 328.20,351.64 328.45,351.72 328.70,351.79 328.95,351.86 329.00,351.87 329.20,351.92 329.45,351.99 329.70,352.05 329.95,352.11 330.00,352.12 330.20,352.17 330.45,352.22 331.00,352.34 332.00,352.53 333.00,352.70 334.00,352.85 335.00,352.99 336.00,353.11 337.00,353.24 338.00,353.35 339.00,353.46 340.00,353.57 341.00,353.69 342.00,353.80 343.00,353.92 344.00,354.06 345.00,354.21 346.00,354.38 347.00,354.57 348.00,354.79 349.00,355.04 350.00,355.32 351.00,355.61 352.00,355.92 353.00,356.24 354.00,356.56 355.00,356.88 356.00,357.20 357.00,357.52 358.00,357.83 359.00,358.13 360.00,358.43 361.00,358.73 362.00,359.02 363.00,359.31 364.00,359.58 365.00,359.84 366.00,360.08 367.00,360.30 368.00,360.49 369.00,360.66 370.00,360.80 371.00,360.93 372.00,361.04 373.00,361.13 374.00,361.22 375.00,361.31 376.00,361.38 377.00,361.46 378.00,361.53 379.00,361.60 380.00,361.67 381.00,361.73 382.00,361.80 383.00,361.86 384.00,361.92 385.00,361.98 386.00,362.04 387.00,362.09 388.00,362.14 389.00,362.20 390.00,362.25 391.00,362.30 392.00,362.34 393.00,362.39 394.00,362.44 395.00,362.48 396.00,362.52 397.00,362.56 398.00,362.60 399.00,362.64 400.00,362.68 401.00,362.72 402.00,362.75 403.00,362.79 404.00,362.82 405.00,362.86 406.00,362.89 407.00,362.92 408.00,362.95 409.00,362.98 410.00,363.01 411.00,363.04 412.00,363.07 413.00,363.10 414.00,363.13 415.00,363.16 416.00,363.19 417.00,363.21 418.00,363.24 419.00,363.27 420.00,363.30 421.00,363.32 422.00,363.35 423.00,363.38 424.00,363.40 425.00,363.43 426.00,363.46 427.00,363.48 428.00,363.51 429.00,363.54 430.00,363.57 431.00,363.59 432.00,363.62 433.00,363.65 434.00,363.68 435.00,363.71 436.00,363.74 437.00,363.77 438.00,363.81 439.00,363.84 440.00,363.87 441.00,363.90 442.00,363.94 443.00,363.97 444.00,364.00 445.00,364.03 446.00,364.07 447.00,364.10 448.00,364.13 449.00,364.16 450.00,364.20 451.00,364.23 452.00,364.26 453.00,364.29 454.00,364.32 455.00,364.36 456.00,364.39 457.00,364.42 458.00,364.45 459.00,364.48 460.00,364.51 461.00,364.54 462.00,364.57 463.00,364.60 464.00,364.63 465.00,364.66 466.00,364.69 467.00,364.72 468.00,364.75 469.00,364.78 470.00,364.81 471.00,364.84 472.00,364.87 473.00,364.90 474.00,364.93 475.00,364.95 476.00,364.98 477.00,365.01 478.00,365.04 479.00,365.07 480.00,365.10 481.00,365.12 482.00,365.15 483.00,365.18 484.00,365.21 485.00,365.24 486.00,365.26 487.00,365.29 488.00,365.32 489.00,365.34 490.00,365.37 491.00,365.40 492.00,365.42 493.00,365.45 494.00,365.48 495.00,365.50 496.00,365.53 497.00,365.56 498.00,365.58 499.00,365.61 500.00,365.63 501.00,365.66 502.00,365.68 503.00,365.71 504.00,365.73 505.00,365.76 506.00,365.78 507.00,365.81 508.00,365.83 509.00,365.86 510.00,365.88 511.00,365.91 512.00,365.93 513.00,365.95 514.00,365.98 515.00,366.00 516.00,366.03 517.00,366.05 518.00,366.07 519.00,366.09 520.00,366.12 521.00,366.14 522.00,366.16 523.00,366.18 524.00,366.20 525.00,366.23 526.00,366.25 527.00,366.27 528.00,366.29 529.00,366.31 530.00,366.33 531.00,366.35 532.00,366.36 533.00,366.38 534.00,366.40 535.00,366.42 536.00,366.43 537.00,366.45 538.00,366.46 539.00,366.47 540.00,366.48 541.00,366.49 542.00,366.50 543.00,366.51 544.00,366.51 545.00,366.52 546.00,366.51 547.00,366.51 548.00,366.50 549.00,366.49 550.00,366.47 551.00,366.44 552.00,366.40 553.00,366.35 554.00,366.29 555.00,366.21 556.00,366.10 556.25,366.07 556.50,366.03 556.75,366.00 557.00,365.96 557.25,365.92 557.50,365.88 557.75,365.83 558.00,365.78 558.25,365.73 558.50,365.67 558.75,365.61 559.00,365.54 559.25,365.47 559.50,365.40 559.75,365.32 560.00,365.23 560.25,365.13 560.50,365.03 560.75,364.92 561.00,364.81 561.25,364.68 561.50,364.54 561.75,364.40 562.00,364.24 562.25,364.06 562.50,363.88 562.75,363.68 563.00,363.46 563.25,363.23 563.50,362.98 563.75,362.71 564.00,362.43 564.25,362.12 564.50,361.80 564.75,361.46 565.00,361.10 565.25,360.73 565.50,360.35 565.75,359.96 566.00,359.58 566.25,359.20 566.50,358.85 566.75,358.52 567.00,358.24 567.25,358.00 567.50,357.83 567.75,357.72 568.00,357.69 568.25,357.72 568.50,357.80 568.75,357.92 569.00,358.09 569.25,358.29 569.50,358.52 569.75,358.79 570.00,359.07 570.25,359.37 570.50,359.68 570.75,360.00 571.00,360.32 571.25,360.64 571.50,360.95 571.75,361.25 572.00,361.55 572.25,361.84 572.50,362.12 572.75,362.38 573.00,362.64 573.25,362.88 573.50,363.11 573.75,363.32 574.00,363.53 574.25,363.72 574.50,363.91 574.75,364.08 575.00,364.25 575.25,364.40 575.50,364.55 575.75,364.69 576.00,364.82 576.25,364.94 576.50,365.06 576.75,365.17 577.00,365.27 577.25,365.37 577.50,365.47 577.75,365.56 578.00,365.64 578.25,365.72 578.50,365.80 578.75,365.87 579.00,365.94 579.25,366.01 579.50,366.07 579.75,366.13 580.00,366.19 581.00,366.39 582.00,366.57 583.00,366.71 584.00,366.84 585.00,366.95 586.00,367.05 587.00,367.14 588.00,367.21 589.00,367.28 590.00,367.34 591.00,367.40 592.00,367.45 593.00,367.50 594.00,367.55 595.00,367.59 596.00,367.63 597.00,367.67 598.00,367.70 599.00,367.73 600.00,367.77 601.00,367.80 602.00,367.82 603.00,367.85 604.00,367.88 605.00,367.90 606.00,367.93 607.00,367.95 608.00,367.97 609.00,367.99 610.00,368.02 611.00,368.04 612.00,368.06 613.00,368.08 614.00,368.09 615.00,368.11 616.00,368.13 617.00,368.15 618.00,368.17 619.00,368.18 620.00,368.20 621.00,368.22 622.00,368.23 623.00,368.25 624.00,368.27 625.00,368.28 626.00,368.30 627.00,368.31 628.00,368.33 629.00,368.34 630.00,368.36 631.00,368.37 632.00,368.39 633.00,368.40 634.00,368.42 635.00,368.43 636.00,368.45 637.00,368.46 638.00,368.48 639.00,368.49 640.00,368.50 641.00,368.52 642.00,368.53 643.00,368.55 644.00,368.56 645.00,368.58 646.00,368.59 647.00,368.61 648.00,368.62 649.00,368.63 650.00,368.65 651.00,368.66 652.00,368.68 653.00,368.69 654.00,368.71 655.00,368.72 656.00,368.74 657.00,368.76 658.00,368.77 659.00,368.79 660.00,368.80 661.00,368.82 662.00,368.84 663.00,368.85 664.00,368.87 665.00,368.89 666.00,368.90 667.00,368.92 668.00,368.94 669.00,368.96 670.00,368.97 671.00,368.99 672.00,369.01 673.00,369.03 674.00,369.05 675.00,369.07 676.00,369.08 677.00,369.10 678.00,369.12 679.00,369.14 680.00,369.16 681.00,369.18 682.00,369.20 683.00,369.22 684.00,369.24 685.00,369.26 686.00,369.28 687.00,369.30 688.00,369.32 689.00,369.34 690.00,369.36 691.00,369.38 692.00,369.40 693.00,369.42 694.00,369.44 695.00,369.46 696.00,369.48 697.00,369.50 698.00,369.52 699.00,369.54 700.00,369.57 701.00,369.59 702.00,369.61 703.00,369.63 704.00,369.65 705.00,369.67 706.00,369.70 707.00,369.72 708.00,369.74 709.00,369.76 710.00,369.78 711.00,369.81 712.00,369.83 713.00,369.85 714.00,369.87 715.00,369.90 716.00,369.92 717.00,369.94 718.00,369.97 719.00,369.99 720.00,370.01 721.00,370.04 722.00,370.06 723.00,370.08 724.00,370.11 725.00,370.13 726.00,370.16 727.00,370.18 728.00,370.20 729.00,370.23 730.00,370.25 731.00,370.28 732.00,370.30 733.00,370.33 734.00,370.35 735.00,370.38 736.00,370.40 737.00,370.43 738.00,370.45 739.00,370.48 740.00,370.50 741.00,370.53 742.00,370.55 743.00,370.58 744.00,370.60 745.00,370.63 746.00,370.66 747.00,370.68 748.00,370.71 749.00,370.73 750.00,370.76 751.00,370.79 752.00,370.81 753.00,370.84 754.00,370.87 755.00,370.89 756.00,370.92 757.00,370.95 758.00,370.98 759.00,371.00 760.00,371.03 761.00,371.06 762.00,371.08 763.00,371.11 764.00,371.14 765.00,371.17 766.00,371.19 767.00,371.22 768.00,371.25 769.00,371.28 770.00,371.30 771.00,371.32 772.00,371.34 773.00,371.36"/>
<polyline fill="none" stroke="#7F7F7F" stroke-width="4.6" stroke-linejoin="round" stroke-linecap="butt" points="50.00,377.55 51.00,379.65 52.00,381.68 53.00,383.60 54.00,385.40 55.00,387.07 56.00,388.63 57.00,390.07 58.00,391.41 59.00,392.67 60.00,393.86 61.00,395.00 62.00,396.11 63.00,397.18 64.00,398.21 65.00,399.20 66.00,400.14 67.00,401.00 68.00,401.79 69.00,402.48 70.00,403.09 71.00,403.62 72.00,404.08 73.00,404.48 74.00,404.84 75.00,405.16 76.00,405.45 77.00,405.71 78.00,405.95 79.00,406.17 80.00,406.36 81.00,406.53 82.00,406.67 83.00,406.79 84.00,406.88 85.00,406.95 86.00,406.99 87.00,407.01 88.00,406.99 89.00,406.95 90.00,406.88 91.00,406.79 92.00,406.66 93.00,406.50 94.00,406.31 95.00,406.07 96.00,405.79 97.00,405.44 98.00,405.02 99.00,404.50 100.00,403.85 100.50,403.47 100.75,403.25 101.00,403.03 101.25,402.79 101.50,402.53 101.75,402.26 102.00,401.97 102.25,401.66 102.50,401.33 102.75,400.97 103.00,400.58 103.25,400.17 103.50,399.72 103.75,399.24 104.00,398.72 104.25,398.16 104.50,397.55 104.75,396.89 105.00,396.17 105.25,395.39 105.50,394.54 105.75,393.61 106.00,392.59 106.25,391.47 106.50,390.24 106.75,388.88 107.00,387.39 107.25,385.75 107.50,383.92 107.75,381.91 108.00,379.68 108.25,377.20 108.50,374.46 108.75,371.42 109.00,368.06 109.25,364.34 109.50,360.26 109.75,355.79 110.00,350.94 110.25,345.74 110.50,340.23 110.75,334.53 111.00,328.78 111.25,323.18 111.50,318.00 111.75,313.53 112.00,310.07 112.25,307.90 112.50,307.19 112.75,308.58 113.00,312.43 113.25,318.21 113.50,325.26 113.75,332.90 114.00,340.59 114.25,347.96 114.50,354.78 114.75,360.96 115.00,366.48 115.25,371.35 115.50,375.63 115.75,379.39 116.00,382.69 116.25,385.58 116.50,388.13 116.75,390.37 117.00,392.35 117.25,394.11 117.50,395.68 117.75,397.08 118.00,398.34 118.25,399.46 118.50,400.48 118.75,401.40 119.00,402.24 119.25,403.00 119.50,403.69 119.75,404.33 120.00,404.91 120.25,405.45 120.50,405.95 120.75,406.40 121.00,406.83 121.25,407.22 121.50,407.58 121.75,407.92 122.00,408.24 122.25,408.54 122.50,408.82 122.75,409.08 123.00,409.32 123.25,409.55 123.50,409.77 123.75,409.97 124.00,410.16 124.25,410.34 125.00,410.84 126.00,411.39 127.00,411.85 128.00,412.24 129.00,412.58 130.00,412.88 131.00,413.16 132.00,413.41 133.00,413.64 134.00,413.86 135.00,414.06 136.00,414.26 137.00,414.44 138.00,414.61 139.00,414.78 140.00,414.94 141.00,415.09 142.00,415.23 143.00,415.37 144.00,415.50 145.00,415.62 146.00,415.73 147.00,415.83 148.00,415.93 149.00,416.02 150.00,416.11 151.00,416.18 152.00,416.25 153.00,416.32 154.00,416.37 155.00,416.41 156.00,416.45 157.00,416.47 158.00,416.48 159.00,416.48 160.00,416.46 161.00,416.44 162.00,416.41 163.00,416.36 164.00,416.31 165.00,416.25 166.00,416.19 167.00,416.12 168.00,416.04 169.00,415.96 170.00,415.87 171.00,415.77 172.00,415.68 173.00,415.58 174.00,415.48 175.00,415.38 176.00,415.27 177.00,415.17 178.00,415.06 179.00,414.96 180.00,414.85 181.00,414.75 182.00,414.65 183.00,414.55 184.00,414.45 185.00,414.35 186.00,414.25 187.00,414.15 188.00,414.05 189.00,413.94 190.00,413.84 191.00,413.74 192.00,413.63 193.00,413.52 194.00,413.41 195.00,413.31 196.00,413.20 197.00,413.09 198.00,412.98 199.00,412.87 200.00,412.75 201.00,412.63 202.00,412.51 203.00,412.39 204.00,412.26 205.00,412.13 206.00,411.99 207.00,411.86 207.80,411.75 208.00,411.72 208.05,411.72 208.30,411.68 208.55,411.65 208.80,411.61 209.00,411.59 209.05,411.58 209.30,411.55 209.55,411.51 209.80,411.48 210.00,411.45 210.05,411.44 210.30,411.41 210.55,411.37 210.80,411.34 211.00,411.31 211.05,411.30 211.30,411.26 211.55,411.22 211.80,411.18 212.00,411.15 212.05,411.14 212.30,411.10 212.55,411.05 212.80,411.00 213.00,410.95 213.05,410.94 213.30,410.88 213.55,410.81 213.80,410.73 214.00,410.66 214.05,410.64 214.30,410.55 214.55,410.44 214.80,410.31 215.00,410.19 215.05,410.16 215.30,409.99 215.55,409.80 215.80,409.57 216.00,409.36 216.05,409.31 216.30,409.00 216.55,408.64 216.80,408.22 217.00,407.84 217.05,407.74 217.30,407.17 217.55,406.53 217.80,405.80 218.00,405.15 218.05,404.98 218.30,404.10 218.55,403.17 218.80,402.25 219.00,401.57 219.05,401.41 219.30,400.74 219.55,400.33 219.80,400.25 220.00,400.39 220.05,400.45 220.30,400.87 220.55,401.46 220.80,402.20 221.00,402.86 221.05,403.03 221.30,403.92 221.55,404.82 221.80,405.70 222.00,406.39 222.05,406.55 222.30,407.36 222.55,408.11 222.80,408.81 223.00,409.32 223.05,409.45 223.30,410.03 223.55,410.57 223.80,411.06 224.00,411.42 224.05,411.51 224.30,411.92 224.55,412.30 224.80,412.64 225.00,412.90 225.05,412.96 225.30,413.25 225.55,413.52 225.80,413.77 226.00,413.96 226.05,414.01 226.30,414.22 226.55,414.42 226.80,414.61 227.00,414.75 227.05,414.78 227.30,414.95 227.55,415.10 227.80,415.24 228.00,415.35 228.05,415.38 228.30,415.51 228.55,415.63 228.80,415.74 229.00,415.82 229.05,415.85 229.30,415.95 229.55,416.04 229.80,416.13 230.00,416.20 230.05,416.22 230.30,416.30 230.55,416.38 230.80,416.46 231.00,416.52 231.05,416.53 231.30,416.60 231.55,416.67 232.00,416.78 233.00,417.01 234.00,417.22 235.00,417.40 236.00,417.57 237.00,417.72 238.00,417.87 239.00,418.01 240.00,418.13 241.00,418.25 242.00,418.37 243.00,418.48 244.00,418.58 245.00,418.68 246.00,418.78 247.00,418.87 248.00,418.96 249.00,419.05 250.00,419.13 251.00,419.21 252.00,419.29 253.00,419.37 254.00,419.44 255.00,419.51 256.00,419.59 257.00,419.66 258.00,419.73 259.00,419.79 260.00,419.86 261.00,419.93 262.00,420.00 263.00,420.06 264.00,420.13 265.00,420.20 266.00,420.27 267.00,420.33 268.00,420.40 269.00,420.47 270.00,420.54 271.00,420.61 272.00,420.69 273.00,420.76 274.00,420.84 275.00,420.92 276.00,421.00 277.00,421.08 278.00,421.16 279.00,421.25 280.00,421.34 281.00,421.43 282.00,421.52 283.00,421.61 284.00,421.70 285.00,421.80 286.00,421.89 287.00,421.98 288.00,422.07 289.00,422.16 290.00,422.25 291.00,422.33 292.00,422.41 293.00,422.49 294.00,422.56 295.00,422.63 296.00,422.70 297.00,422.76 298.00,422.81 299.00,422.85 300.00,422.89 301.00,422.92 302.00,422.93 303.00,422.94 304.00,422.93 305.00,422.89 306.00,422.83 306.70,422.77 306.95,422.75 307.00,422.74 307.20,422.72 307.45,422.68 307.70,422.65 307.95,422.61 308.00,422.60 308.20,422.57 308.45,422.52 308.70,422.47 308.95,422.42 309.00,422.41 309.20,422.36 309.45,422.30 309.70,422.23 309.95,422.15 310.00,422.14 310.20,422.07 310.45,421.99 310.70,421.89 310.95,421.79 311.00,421.77 311.20,421.68 311.45,421.56 311.70,421.44 311.95,421.30 312.00,421.27 312.20,421.15 312.45,420.99 312.70,420.81 312.95,420.61 313.00,420.57 313.20,420.40 313.45,420.17 313.70,419.92 313.95,419.63 314.00,419.58 314.20,419.32 314.45,418.98 314.70,418.59 314.95,418.17 315.00,418.07 315.20,417.69 315.45,417.15 315.70,416.55 315.95,415.87 316.00,415.73 316.20,415.12 316.45,414.28 316.70,413.35 316.95,412.34 317.00,412.13 317.20,411.27 317.45,410.17 317.70,409.08 317.95,408.08 318.00,407.90 318.20,407.24 318.45,406.65 318.70,406.38 318.95,406.33 319.00,406.33 319.20,406.41 319.45,406.62 319.70,406.93 319.95,407.32 320.00,407.41 320.20,407.77 320.45,408.27 320.70,408.79 320.95,409.31 321.00,409.42 321.20,409.83 321.45,410.33 321.70,410.81 321.95,411.26 322.00,411.34 322.20,411.67 322.45,412.06 322.70,412.42 322.95,412.74 323.00,412.81 323.20,413.04 323.45,413.31 323.70,413.56 323.95,413.79 324.00,413.83 324.20,414.00 324.45,414.19 324.70,414.36 324.95,414.52 325.00,414.55 325.20,414.67 325.45,414.80 325.70,414.93 325.95,415.05 326.00,415.07 326.20,415.15 326.45,415.26 326.70,415.35 326.95,415.45 327.00,415.46 327.20,415.53 327.45,415.62 327.70,415.70 327.95,415.77 328.00,415.79 328.20,415.84 328.45,415.91 328.70,415.98 328.95,416.05 329.00,416.06 329.20,416.11 329.45,416.17 329.70,416.23 329.95,416.28 330.00,416.29 330.20,416.34 330.45,416.39 331.00,416.50 332.00,416.69 333.00,416.86 334.00,417.01 335.00,417.16 336.00,417.30 337.00,417.43 338.00,417.56 339.00,417.69 340.00,417.81 341.00,417.94 342.00,418.07 343.00,418.21 344.00,418.35 345.00,418.51 346.00,418.68 347.00,418.87 348.00,419.08 349.00,419.31 350.00,419.56 351.00,419.82 352.00,420.10 353.00,420.39 354.00,420.68 355.00,420.98 356.00,421.28 357.00,421.59 358.00,421.89 359.00,422.20 360.00,422.52 361.00,422.84 362.00,423.16 363.00,423.47 364.00,423.77 365.00,424.06 366.00,424.32 367.00,424.56 368.00,424.77 369.00,424.94 370.00,425.08 371.00,425.20 372.00,425.29 373.00,425.37 374.00,425.44 375.00,425.50 376.00,425.55 377.00,425.61 378.00,425.66 379.00,425.70 380.00,425.75 381.00,425.79 382.00,425.84 383.00,425.88 384.00,425.92 385.00,425.96 386.00,425.99 387.00,426.03 388.00,426.06 389.00,426.10 390.00,426.13 391.00,426.16 392.00,426.19 393.00,426.22 394.00,426.25 395.00,426.27 396.00,426.30 397.00,426.32 398.00,426.35 399.00,426.37 400.00,426.39 401.00,426.41 402.00,426.43 403.00,426.45 404.00,426.47 405.00,426.49 406.00,426.51 407.00,426.53 408.00,426.55 409.00,426.57 410.00,426.58 411.00,426.60 412.00,426.62 413.00,426.63 414.00,426.65 415.00,426.67 416.00,426.68 417.00,426.70 418.00,426.72 419.00,426.73 420.00,426.75 421.00,426.77 422.00,426.78 423.00,426.80 424.00,426.82 425.00,426.84 426.00,426.85 427.00,426.87 428.00,426.89 429.00,426.91 430.00,426.93 431.00,426.95 432.00,426.97 433.00,427.00 434.00,427.02 435.00,427.04 436.00,427.07 437.00,427.09 438.00,427.12 439.00,427.15 440.00,427.18 441.00,427.20 442.00,427.23 443.00,427.26 444.00,427.29 445.00,427.32 446.00,427.35 447.00,427.38 448.00,427.41 449.00,427.43 450.00,427.46 451.00,427.49 452.00,427.52 453.00,427.55 454.00,427.58 455.00,427.61 456.00,427.64 457.00,427.67 458.00,427.70 459.00,427.73 460.00,427.76 461.00,427.79 462.00,427.82 463.00,427.85 464.00,427.88 465.00,427.91 466.00,427.94 467.00,427.97 468.00,428.00 469.00,428.03 470.00,428.06 471.00,428.09 472.00,428.12 473.00,428.15 474.00,428.18 475.00,428.21 476.00,428.24 477.00,428.27 478.00,428.30 479.00,428.33 480.00,428.36 481.00,428.39 482.00,428.42 483.00,428.45 484.00,428.48 485.00,428.51 486.00,428.54 487.00,428.57 488.00,428.60 489.00,428.63 490.00,428.66 491.00,428.69 492.00,428.72 493.00,428.75 494.00,428.78 495.00,428.81 496.00,428.84 497.00,428.87 498.00,428.90 499.00,428.94 500.00,428.97 501.00,429.00 502.00,429.03 503.00,429.06 504.00,429.09 505.00,429.12 506.00,429.15 507.00,429.18 508.00,429.21 509.00,429.24 510.00,429.27 511.00,429.30 512.00,429.33 513.00,429.36 514.00,429.39 515.00,429.42 516.00,429.45 517.00,429.48 518.00,429.51 519.00,429.54 520.00,429.57 521.00,429.60 522.00,429.63 523.00,429.66 524.00,429.69 525.00,429.72 526.00,429.75 527.00,429.78 528.00,429.80 529.00,429.83 530.00,429.86 531.00,429.89 532.00,429.91 533.00,429.94 534.00,429.97 535.00,429.99 536.00,430.02 537.00,430.04 538.00,430.07 539.00,430.09 540.00,430.11 541.00,430.13 542.00,430.15 543.00,430.17 544.00,430.19 545.00,430.20 546.00,430.21 547.00,430.22 548.00,430.23 549.00,430.23 550.00,430.23 551.00,430.22 552.00,430.20 553.00,430.17 554.00,430.14 555.00,430.08 556.00,430.01 556.25,429.99 556.50,429.97 556.75,429.94 557.00,429.92 557.25,429.89 557.50,429.86 557.75,429.82 558.00,429.79 558.25,429.75 558.50,429.70 558.75,429.66 559.00,429.61 559.25,429.56 559.50,429.50 559.75,429.44 560.00,429.37 560.25,429.30 560.50,429.22 560.75,429.14 561.00,429.05 561.25,428.95 561.50,428.84 561.75,428.73 562.00,428.60 562.25,428.47 562.50,428.32 562.75,428.16 563.00,427.99 563.25,427.81 563.50,427.61 563.75,427.39 564.00,427.17 564.25,426.92 564.50,426.66 564.75,426.39 565.00,426.11 565.25,425.81 565.50,425.50 565.75,425.19 566.00,424.89 566.25,424.59 566.50,424.30 566.75,424.04 567.00,423.82 567.25,423.63 567.50,423.50 567.75,423.41 568.00,423.39 568.25,423.42 568.50,423.49 568.75,423.60 569.00,423.74 569.25,423.90 569.50,424.10 569.75,424.32 570.00,424.56 570.25,424.81 570.50,425.06 570.75,425.33 571.00,425.59 571.25,425.85 571.50,426.11 571.75,426.37 572.00,426.62 572.25,426.86 572.50,427.09 572.75,427.31 573.00,427.52 573.25,427.72 573.50,427.91 573.75,428.09 574.00,428.26 574.25,428.43 574.50,428.58 574.75,428.73 575.00,428.87 575.25,429.00 575.50,429.12 575.75,429.24 576.00,429.35 576.25,429.46 576.50,429.56 576.75,429.65 577.00,429.74 577.25,429.83 577.50,429.91 577.75,429.99 578.00,430.06 578.25,430.13 578.50,430.20 578.75,430.26 579.00,430.32 579.25,430.38 579.50,430.44 579.75,430.49 580.00,430.54 581.00,430.73 582.00,430.88 583.00,431.02 584.00,431.14 585.00,431.24 586.00,431.33 587.00,431.42 588.00,431.49 589.00,431.56 590.00,431.62 591.00,431.67 592.00,431.72 593.00,431.77 594.00,431.81 595.00,431.85 596.00,431.89 597.00,431.92 598.00,431.95 599.00,431.98 600.00,432.01 601.00,432.04 602.00,432.06 603.00,432.09 604.00,432.11 605.00,432.13 606.00,432.15 607.00,432.17 608.00,432.19 609.00,432.21 610.00,432.23 611.00,432.25 612.00,432.26 613.00,432.28 614.00,432.30 615.00,432.31 616.00,432.33 617.00,432.34 618.00,432.36 619.00,432.37 620.00,432.38 621.00,432.40 622.00,432.41 623.00,432.42 624.00,432.44 625.00,432.45 626.00,432.46 627.00,432.47 628.00,432.48 629.00,432.49 630.00,432.50 631.00,432.52 632.00,432.53 633.00,432.54 634.00,432.55 635.00,432.56 636.00,432.57 637.00,432.58 638.00,432.59 639.00,432.60 640.00,432.61 641.00,432.62 642.00,432.63 643.00,432.64 644.00,432.65 645.00,432.66 646.00,432.67 647.00,432.68 648.00,432.70 649.00,432.71 650.00,432.72 651.00,432.73 652.00,432.74 653.00,432.75 654.00,432.76 655.00,432.77 656.00,432.79 657.00,432.80 658.00,432.81 659.00,432.82 660.00,432.84 661.00,432.85 662.00,432.86 663.00,432.88 664.00,432.89 665.00,432.90 666.00,432.92 667.00,432.93 668.00,432.95 669.00,432.96 670.00,432.98 671.00,432.99 672.00,433.01 673.00,433.03 674.00,433.04 675.00,433.06 676.00,433.08 677.00,433.09 678.00,433.11 679.00,433.13 680.00,433.14 681.00,433.16 682.00,433.18 683.00,433.20 684.00,433.22 685.00,433.23 686.00,433.25 687.00,433.27 688.00,433.29 689.00,433.31 690.00,433.33 691.00,433.35 692.00,433.37 693.00,433.39 694.00,433.41 695.00,433.42 696.00,433.44 697.00,433.46 698.00,433.49 699.00,433.51 700.00,433.53 701.00,433.55 702.00,433.57 703.00,433.59 704.00,433.61 705.00,433.63 706.00,433.65 707.00,433.67 708.00,433.70 709.00,433.72 710.00,433.74 711.00,433.76 712.00,433.78 713.00,433.81 714.00,433.83 715.00,433.85 716.00,433.87 717.00,433.90 718.00,433.92 719.00,433.94 720.00,433.97 721.00,433.99 722.00,434.02 723.00,434.04 724.00,434.06 725.00,434.09 726.00,434.11 727.00,434.14 728.00,434.16 729.00,434.19 730.00,434.21 731.00,434.23 732.00,434.26 733.00,434.29 734.00,434.31 735.00,434.34 736.00,434.36 737.00,434.39 738.00,434.41 739.00,434.44 740.00,434.47 741.00,434.49 742.00,434.52 743.00,434.54 744.00,434.57 745.00,434.60 746.00,434.62 747.00,434.65 748.00,434.68 749.00,434.71 750.00,434.73 751.00,434.76 752.00,434.79 753.00,434.82 754.00,434.84 755.00,434.87 756.00,434.90 757.00,434.93 758.00,434.96 759.00,434.98 760.00,435.01 761.00,435.04 762.00,435.07 763.00,435.10 764.00,435.13 765.00,435.16 766.00,435.19 767.00,435.21 768.00,435.24 769.00,435.27 770.00,435.30 771.00,435.32 772.00,435.34 773.00,435.36"/>
<polyline fill="none" stroke="#BE4B48" stroke-width="4.6" stroke-linejoin="round" stroke-linecap="butt" points="50.00,427.73 51.00,430.19 52.00,432.58 53.00,434.85 54.00,437.02 55.00,439.05 56.00,440.97 57.00,442.77 58.00,444.47 59.00,446.09 60.00,447.65 61.00,449.16 62.00,450.63 63.00,452.07 64.00,453.47 65.00,454.82 66.00,456.09 67.00,457.26 68.00,458.31 69.00,459.24 70.00,460.03 71.00,460.71 72.00,461.28 73.00,461.76 74.00,462.18 75.00,462.55 76.00,462.88 77.00,463.17 78.00,463.43 79.00,463.67 80.00,463.87 81.00,464.04 82.00,464.19 83.00,464.31 84.00,464.40 85.00,464.46 86.00,464.49 87.00,464.49 88.00,464.47 89.00,464.42 90.00,464.34 91.00,464.23 92.00,464.09 93.00,463.92 94.00,463.71 95.00,463.46 96.00,463.15 97.00,462.77 98.00,462.31 99.00,461.74 100.00,461.04 100.50,460.62 100.75,460.39 101.00,460.15 101.25,459.89 101.50,459.62 101.75,459.33 102.00,459.02 102.25,458.68 102.50,458.33 102.75,457.95 103.00,457.54 103.25,457.11 103.50,456.64 103.75,456.13 104.00,455.59 104.25,455.00 104.50,454.37 104.75,453.68 105.00,452.94 105.25,452.13 105.50,451.25 105.75,450.30 106.00,449.25 106.25,448.11 106.50,446.85 106.75,445.48 107.00,443.98 107.25,442.32 107.50,440.50 107.75,438.49 108.00,436.28 108.25,433.84 108.50,431.16 108.75,428.20 109.00,424.96 109.25,421.42 109.50,417.56 109.75,413.38 110.00,408.91 110.25,404.16 110.50,399.21 110.75,394.16 111.00,389.13 111.25,384.31 111.50,379.91 111.75,376.17 112.00,373.31 112.25,371.54 112.50,370.99 112.75,372.23 113.00,375.60 113.25,380.71 113.50,386.98 113.75,393.85 114.00,400.86 114.25,407.67 114.50,414.04 114.75,419.88 115.00,425.14 115.25,429.84 115.50,434.01 115.75,437.69 116.00,440.94 116.25,443.82 116.50,446.36 116.75,448.61 117.00,450.61 117.25,452.40 117.50,453.99 117.75,455.43 118.00,456.72 118.25,457.88 118.50,458.93 118.75,459.89 119.00,460.77 119.25,461.57 119.50,462.30 119.75,462.97 120.00,463.59 120.25,464.16 120.50,464.69 120.75,465.19 121.00,465.65 121.25,466.07 121.50,466.47 121.75,466.84 122.00,467.20 122.25,467.52 122.50,467.83 122.75,468.12 123.00,468.40 123.25,468.66 123.50,468.91 123.75,469.14 124.00,469.36 124.25,469.57 125.00,470.15 126.00,470.81 127.00,471.36 128.00,471.84 129.00,472.25 130.00,472.60 131.00,472.91 132.00,473.18 133.00,473.42 134.00,473.62 135.00,473.80 136.00,473.95 137.00,474.09 138.00,474.21 139.00,474.32 140.00,474.42 141.00,474.51 142.00,474.59 143.00,474.67 144.00,474.74 145.00,474.81 146.00,474.87 147.00,474.94 148.00,475.00 149.00,475.07 150.00,475.13 151.00,475.19 152.00,475.25 153.00,475.31 154.00,475.36 155.00,475.41 156.00,475.44 157.00,475.47 158.00,475.49 159.00,475.50 160.00,475.50 161.00,475.50 162.00,475.48 163.00,475.47 164.00,475.45 165.00,475.42 166.00,475.39 167.00,475.36 168.00,475.32 169.00,475.28 170.00,475.23 171.00,475.19 172.00,475.14 173.00,475.09 174.00,475.03 175.00,474.97 176.00,474.92 177.00,474.86 178.00,474.80 179.00,474.73 180.00,474.67 181.00,474.60 182.00,474.54 183.00,474.47 184.00,474.39 185.00,474.31 186.00,474.23 187.00,474.13 188.00,474.03 189.00,473.93 190.00,473.81 191.00,473.70 192.00,473.58 193.00,473.46 194.00,473.34 195.00,473.23 196.00,473.13 197.00,473.04 198.00,472.95 199.00,472.88 200.00,472.81 201.00,472.75 202.00,472.70 203.00,472.64 204.00,472.59 205.00,472.54 206.00,472.48 207.00,472.41 207.80,472.35 208.00,472.34 208.05,472.33 208.30,472.31 208.55,472.29 208.80,472.27 209.00,472.25 209.05,472.25 209.30,472.22 209.55,472.20 209.80,472.17 210.00,472.15 210.05,472.15 210.30,472.12 210.55,472.09 210.80,472.05 211.00,472.03 211.05,472.02 211.30,471.98 211.55,471.94 211.80,471.90 212.00,471.86 212.05,471.85 212.30,471.80 212.55,471.75 212.80,471.69 213.00,471.64 213.05,471.62 213.30,471.55 213.55,471.47 213.80,471.38 214.00,471.30 214.05,471.28 214.30,471.17 214.55,471.04 214.80,470.90 215.00,470.77 215.05,470.74 215.30,470.55 215.55,470.34 215.80,470.09 216.00,469.87 216.05,469.81 216.30,469.49 216.55,469.11 216.80,468.68 217.00,468.29 217.05,468.19 217.30,467.62 217.55,466.97 217.80,466.24 218.00,465.59 218.05,465.43 218.30,464.54 218.55,463.62 218.80,462.71 219.00,462.03 219.05,461.87 219.30,461.20 219.55,460.76 219.80,460.65 220.00,460.75 220.05,460.80 220.30,461.15 220.55,461.68 220.80,462.34 221.00,462.93 221.05,463.09 221.30,463.89 221.55,464.70 221.80,465.50 222.00,466.12 222.05,466.27 222.30,467.00 222.55,467.68 222.80,468.30 223.00,468.76 223.05,468.87 223.30,469.40 223.55,469.87 223.80,470.31 224.00,470.62 224.05,470.70 224.30,471.06 224.55,471.39 224.80,471.69 225.00,471.91 225.05,471.97 225.30,472.22 225.55,472.45 225.80,472.67 226.00,472.83 226.05,472.87 226.30,473.05 226.55,473.22 226.80,473.38 227.00,473.50 227.05,473.53 227.30,473.67 227.55,473.80 227.80,473.93 228.00,474.02 228.05,474.04 228.30,474.15 228.55,474.26 228.80,474.36 229.00,474.43 229.05,474.45 229.30,474.54 229.55,474.63 229.80,474.71 230.00,474.77 230.05,474.79 230.30,474.86 230.55,474.94 230.80,475.01 231.00,475.06 231.05,475.07 231.30,475.14 231.55,475.20 232.00,475.31 233.00,475.53 234.00,475.73 235.00,475.92 236.00,476.09 237.00,476.26 238.00,476.41 239.00,476.56 240.00,476.71 241.00,476.85 242.00,476.98 243.00,477.11 244.00,477.24 245.00,477.36 246.00,477.49 247.00,477.60 248.00,477.72 249.00,477.84 250.00,477.95 251.00,478.06 252.00,478.17 253.00,478.28 254.00,478.39 255.00,478.49 256.00,478.59 257.00,478.70 258.00,478.80 259.00,478.90 260.00,479.00 261.00,479.10 262.00,479.20 263.00,479.29 264.00,479.39 265.00,479.48 266.00,479.58 267.00,479.67 268.00,479.76 269.00,479.86 270.00,479.95 271.00,480.04 272.00,480.13 273.00,480.22 274.00,480.32 275.00,480.41 276.00,480.50 277.00,480.60 278.00,480.69 279.00,480.79 280.00,480.89 281.00,480.99 282.00,481.09 283.00,481.19 284.00,481.29 285.00,481.39 286.00,481.49 287.00,481.59 288.00,481.69 289.00,481.78 290.00,481.88 291.00,481.97 292.00,482.05 293.00,482.14 294.00,482.22 295.00,482.29 296.00,482.36 297.00,482.42 298.00,482.47 299.00,482.52 300.00,482.56 301.00,482.59 302.00,482.60 303.00,482.61 304.00,482.59 305.00,482.56 306.00,482.49 306.70,482.42 306.95,482.39 307.00,482.39 307.20,482.36 307.45,482.32 307.70,482.29 307.95,482.24 308.00,482.23 308.20,482.20 308.45,482.14 308.70,482.09 308.95,482.03 309.00,482.02 309.20,481.96 309.45,481.89 309.70,481.82 309.95,481.74 310.00,481.72 310.20,481.65 310.45,481.55 310.70,481.45 310.95,481.34 311.00,481.31 311.20,481.22 311.45,481.09 311.70,480.95 311.95,480.79 312.00,480.76 312.20,480.63 312.45,480.45 312.70,480.26 312.95,480.04 313.00,480.00 313.20,479.81 313.45,479.56 313.70,479.28 313.95,478.97 314.00,478.91 314.20,478.63 314.45,478.26 314.70,477.84 314.95,477.37 315.00,477.27 315.20,476.85 315.45,476.27 315.70,475.61 315.95,474.88 316.00,474.72 316.20,474.06 316.45,473.15 316.70,472.14 316.95,471.05 317.00,470.82 317.20,469.89 317.45,468.69 317.70,467.51 317.95,466.43 318.00,466.23 318.20,465.52 318.45,464.88 318.70,464.57 318.95,464.52 319.00,464.53 319.20,464.61 319.45,464.83 319.70,465.16 319.95,465.58 320.00,465.67 320.20,466.06 320.45,466.60 320.70,467.15 320.95,467.72 321.00,467.83 321.20,468.27 321.45,468.81 321.70,469.32 321.95,469.80 322.00,469.89 322.20,470.25 322.45,470.66 322.70,471.05 322.95,471.40 323.00,471.46 323.20,471.72 323.45,472.01 323.70,472.27 323.95,472.52 324.00,472.56 324.20,472.74 324.45,472.94 324.70,473.13 324.95,473.30 325.00,473.33 325.20,473.45 325.45,473.60 325.70,473.73 325.95,473.86 326.00,473.88 326.20,473.98 326.45,474.09 326.70,474.19 326.95,474.29 327.00,474.31 327.20,474.38 327.45,474.47 327.70,474.56 327.95,474.64 328.00,474.65 328.20,474.71 328.45,474.79 328.70,474.86 328.95,474.93 329.00,474.94 329.20,475.00 329.45,475.06 329.70,475.13 329.95,475.19 330.00,475.20 330.20,475.25 330.45,475.30 331.00,475.42 332.00,475.63 333.00,475.81 334.00,475.98 335.00,476.13 336.00,476.28 337.00,476.43 338.00,476.57 339.00,476.70 340.00,476.84 341.00,476.98 342.00,477.12 343.00,477.27 344.00,477.43 345.00,477.60 346.00,477.79 347.00,477.99 348.00,478.23 349.00,478.48 350.00,478.76 351.00,479.05 352.00,479.36 353.00,479.69 354.00,480.02 355.00,480.36 356.00,480.70 357.00,481.04 358.00,481.39 359.00,481.75 360.00,482.12 361.00,482.49 362.00,482.86 363.00,483.22 364.00,483.58 365.00,483.92 366.00,484.23 367.00,484.52 368.00,484.77 369.00,484.98 370.00,485.16 371.00,485.30 372.00,485.43 373.00,485.53 374.00,485.63 375.00,485.71 376.00,485.79 377.00,485.86 378.00,485.94 379.00,486.01 380.00,486.07 381.00,486.14 382.00,486.20 383.00,486.26 384.00,486.32 385.00,486.37 386.00,486.43 387.00,486.48 388.00,486.53 389.00,486.58 390.00,486.63 391.00,486.67 392.00,486.72 393.00,486.76 394.00,486.80 395.00,486.84 396.00,486.88 397.00,486.92 398.00,486.95 399.00,486.99 400.00,487.02 401.00,487.06 402.00,487.09 403.00,487.12 404.00,487.15 405.00,487.18 406.00,487.21 407.00,487.24 408.00,487.27 409.00,487.29 410.00,487.32 411.00,487.35 412.00,487.37 413.00,487.40 414.00,487.42 415.00,487.45 416.00,487.47 417.00,487.50 418.00,487.52 419.00,487.55 420.00,487.57 421.00,487.60 422.00,487.62 423.00,487.65 424.00,487.68 425.00,487.70 426.00,487.73 427.00,487.76 428.00,487.78 429.00,487.81 430.00,487.84 431.00,487.87 432.00,487.90 433.00,487.93 434.00,487.96 435.00,488.00 436.00,488.03 437.00,488.06 438.00,488.10 439.00,488.14 440.00,488.17 441.00,488.21 442.00,488.25 443.00,488.29 444.00,488.33 445.00,488.36 446.00,488.40 447.00,488.44 448.00,488.48 449.00,488.52 450.00,488.56 451.00,488.60 452.00,488.63 453.00,488.67 454.00,488.71 455.00,488.75 456.00,488.79 457.00,488.83 458.00,488.86 459.00,488.90 460.00,488.94 461.00,488.98 462.00,489.02 463.00,489.05 464.00,489.09 465.00,489.13 466.00,489.17 467.00,489.21 468.00,489.24 469.00,489.28 470.00,489.32 471.00,489.36 472.00,489.40 473.00,489.43 474.00,489.47 475.00,489.51 476.00,489.55 477.00,489.58 478.00,489.62 479.00,489.66 480.00,489.70 481.00,489.73 482.00,489.77 483.00,489.81 484.00,489.85 485.00,489.88 486.00,489.92 487.00,489.96 488.00,489.99 489.00,490.03 490.00,490.07 491.00,490.11 492.00,490.14 493.00,490.18 494.00,490.22 495.00,490.25 496.00,490.29 497.00,490.33 498.00,490.36 499.00,490.40 500.00,490.44 501.00,490.47 502.00,490.51 503.00,490.54 504.00,490.58 505.00,490.62 506.00,490.65 507.00,490.69 508.00,490.72 509.00,490.76 510.00,490.80 511.00,490.83 512.00,490.87 513.00,490.90 514.00,490.94 515.00,490.97 516.00,491.01 517.00,491.04 518.00,491.08 519.00,491.11 520.00,491.14 521.00,491.18 522.00,491.21 523.00,491.25 524.00,491.28 525.00,491.31 526.00,491.34 527.00,491.38 528.00,491.41 529.00,491.44 530.00,491.47 531.00,491.50 532.00,491.53 533.00,491.56 534.00,491.59 535.00,491.62 536.00,491.65 537.00,491.68 538.00,491.70 539.00,491.73 540.00,491.75 541.00,491.78 542.00,491.80 543.00,491.82 544.00,491.84 545.00,491.85 546.00,491.86 547.00,491.87 548.00,491.88 549.00,491.88 550.00,491.87 551.00,491.86 552.00,491.84 553.00,491.81 554.00,491.77 555.00,491.71 556.00,491.63 556.25,491.60 556.50,491.57 556.75,491.55 557.00,491.52 557.25,491.48 557.50,491.45 557.75,491.41 558.00,491.37 558.25,491.32 558.50,491.27 558.75,491.22 559.00,491.17 559.25,491.11 559.50,491.04 559.75,490.97 560.00,490.90 560.25,490.81 560.50,490.73 560.75,490.63 561.00,490.53 561.25,490.42 561.50,490.30 561.75,490.17 562.00,490.03 562.25,489.88 562.50,489.71 562.75,489.53 563.00,489.34 563.25,489.14 563.50,488.91 563.75,488.67 564.00,488.42 564.25,488.15 564.50,487.86 564.75,487.55 565.00,487.23 565.25,486.90 565.50,486.56 565.75,486.21 566.00,485.87 566.25,485.53 566.50,485.22 566.75,484.93 567.00,484.67 567.25,484.46 567.50,484.31 567.75,484.22 568.00,484.19 568.25,484.22 568.50,484.30 568.75,484.41 569.00,484.57 569.25,484.75 569.50,484.97 569.75,485.21 570.00,485.47 570.25,485.75 570.50,486.03 570.75,486.32 571.00,486.62 571.25,486.91 571.50,487.19 571.75,487.48 572.00,487.75 572.25,488.01 572.50,488.27 572.75,488.51 573.00,488.74 573.25,488.97 573.50,489.18 573.75,489.38 574.00,489.57 574.25,489.75 574.50,489.92 574.75,490.08 575.00,490.23 575.25,490.38 575.50,490.51 575.75,490.64 576.00,490.76 576.25,490.88 576.50,490.99 576.75,491.09 577.00,491.19 577.25,491.29 577.50,491.38 577.75,491.46 578.00,491.54 578.25,491.62 578.50,491.69 578.75,491.76 579.00,491.83 579.25,491.89 579.50,491.95 579.75,492.01 580.00,492.06 581.00,492.27 582.00,492.44 583.00,492.58 584.00,492.71 585.00,492.83 586.00,492.93 587.00,493.02 588.00,493.10 589.00,493.18 590.00,493.25 591.00,493.31 592.00,493.37 593.00,493.43 594.00,493.48 595.00,493.53 596.00,493.58 597.00,493.62 598.00,493.66 599.00,493.70 600.00,493.74 601.00,493.78 602.00,493.82 603.00,493.85 604.00,493.89 605.00,493.92 606.00,493.95 607.00,493.98 608.00,494.01 609.00,494.04 610.00,494.07 611.00,494.10 612.00,494.12 613.00,494.15 614.00,494.18 615.00,494.20 616.00,494.23 617.00,494.25 618.00,494.28 619.00,494.30 620.00,494.33 621.00,494.35 622.00,494.37 623.00,494.40 624.00,494.42 625.00,494.44 626.00,494.46 627.00,494.49 628.00,494.51 629.00,494.53 630.00,494.55 631.00,494.57 632.00,494.60 633.00,494.62 634.00,494.64 635.00,494.66 636.00,494.68 637.00,494.70 638.00,494.72 639.00,494.75 640.00,494.77 641.00,494.79 642.00,494.81 643.00,494.83 644.00,494.85 645.00,494.87 646.00,494.90 647.00,494.92 648.00,494.94 649.00,494.96 650.00,494.98 651.00,495.01 652.00,495.03 653.00,495.05 654.00,495.07 655.00,495.10 656.00,495.12 657.00,495.14 658.00,495.17 659.00,495.19 660.00,495.22 661.00,495.24 662.00,495.27 663.00,495.29 664.00,495.32 665.00,495.34 666.00,495.37 667.00,495.40 668.00,495.42 669.00,495.45 670.00,495.48 671.00,495.50 672.00,495.53 673.00,495.56 674.00,495.59 675.00,495.62 676.00,495.65 677.00,495.67 678.00,495.70 679.00,495.73 680.00,495.76 681.00,495.79 682.00,495.82 683.00,495.85 684.00,495.88 685.00,495.91 686.00,495.94 687.00,495.97 688.00,496.00 689.00,496.03 690.00,496.06 691.00,496.10 692.00,496.13 693.00,496.16 694.00,496.19 695.00,496.22 696.00,496.25 697.00,496.29 698.00,496.32 699.00,496.35 700.00,496.38 701.00,496.42 702.00,496.45 703.00,496.48 704.00,496.52 705.00,496.55 706.00,496.58 707.00,496.62 708.00,496.65 709.00,496.69 710.00,496.72 711.00,496.75 712.00,496.79 713.00,496.82 714.00,496.86 715.00,496.89 716.00,496.93 717.00,496.96 718.00,497.00 719.00,497.04 720.00,497.07 721.00,497.11 722.00,497.14 723.00,497.18 724.00,497.22 725.00,497.25 726.00,497.29 727.00,497.33 728.00,497.37 729.00,497.40 730.00,497.44 731.00,497.48 732.00,497.52 733.00,497.55 734.00,497.59 735.00,497.63 736.00,497.67 737.00,497.71 738.00,497.75 739.00,497.78 740.00,497.82 741.00,497.86 742.00,497.90 743.00,497.94 744.00,497.98 745.00,498.02 746.00,498.06 747.00,498.10 748.00,498.14 749.00,498.18 750.00,498.22 751.00,498.26 752.00,498.30 753.00,498.34 754.00,498.39 755.00,498.43 756.00,498.47 757.00,498.51 758.00,498.55 759.00,498.59 760.00,498.64 761.00,498.68 762.00,498.72 763.00,498.76 764.00,498.80 765.00,498.85 766.00,498.89 767.00,498.93 768.00,498.97 769.00,499.01 770.00,499.05 771.00,499.09 772.00,499.12 773.00,499.14"/>
<polyline fill="none" stroke="#F69240" stroke-width="4.6" stroke-linejoin="round" stroke-linecap="butt" points="50.00,496.56 51.00,498.86 52.00,501.09 53.00,503.21 54.00,505.22 55.00,507.11 56.00,508.88 57.00,510.53 58.00,512.08 59.00,513.54 60.00,514.93 61.00,516.25 62.00,517.51 63.00,518.73 64.00,519.90 65.00,521.01 66.00,522.05 67.00,523.02 68.00,523.91 69.00,524.72 70.00,525.44 71.00,526.09 72.00,526.67 73.00,527.20 74.00,527.68 75.00,528.12 76.00,528.54 77.00,528.92 78.00,529.27 79.00,529.59 80.00,529.87 81.00,530.12 82.00,530.33 83.00,530.50 84.00,530.62 85.00,530.71 86.00,530.76 87.00,530.77 88.00,530.75 89.00,530.70 90.00,530.61 91.00,530.50 92.00,530.36 93.00,530.19 94.00,530.00 95.00,529.77 96.00,529.50 97.00,529.19 98.00,528.81 99.00,528.34 100.00,527.75 100.40,527.47 100.65,527.28 100.90,527.08 101.00,527.00 101.15,526.87 101.40,526.64 101.65,526.39 101.90,526.13 102.00,526.02 102.15,525.85 102.40,525.55 102.65,525.23 102.90,524.88 103.00,524.73 103.15,524.50 103.40,524.10 103.65,523.67 103.90,523.20 104.00,523.00 104.15,522.69 104.40,522.14 104.65,521.55 104.90,520.90 105.00,520.63 105.15,520.20 105.40,519.44 105.65,518.61 105.90,517.71 106.00,517.33 106.15,516.72 106.40,515.65 106.65,514.47 106.90,513.18 107.00,512.63 107.15,511.77 107.40,510.23 107.65,508.54 107.90,506.68 108.00,505.89 108.15,504.65 108.40,502.43 108.65,500.00 108.90,497.36 109.00,496.25 109.15,494.50 109.40,491.42 109.65,488.11 109.90,484.61 110.00,483.16 110.15,480.94 110.40,477.16 110.65,473.35 110.90,469.61 111.00,468.16 111.15,466.07 111.40,462.87 111.65,460.18 111.90,458.14 112.00,457.53 112.15,456.88 112.40,456.49 112.65,457.33 112.90,459.64 113.00,460.93 113.15,463.18 113.40,467.60 113.65,472.54 113.90,477.70 114.00,479.76 114.15,482.81 114.40,487.71 114.65,492.28 114.90,496.48 115.00,498.05 115.15,500.29 115.40,503.71 115.65,506.78 115.90,509.51 116.00,510.52 116.15,511.95 116.40,514.13 116.65,516.07 116.90,517.81 117.00,518.45 117.15,519.37 117.40,520.77 117.65,522.03 117.90,523.17 118.00,523.59 118.15,524.20 118.40,525.13 118.65,525.98 118.90,526.76 119.00,527.05 119.15,527.47 119.40,528.13 119.65,528.73 119.90,529.28 120.00,529.49 120.15,529.80 120.40,530.27 120.65,530.71 120.90,531.12 121.00,531.28 121.15,531.51 121.40,531.86 121.65,532.20 121.90,532.51 122.00,532.63 122.15,532.81 122.40,533.09 122.65,533.35 122.90,533.60 123.00,533.69 123.15,533.83 123.40,534.05 123.65,534.26 123.90,534.46 124.00,534.54 124.15,534.65 125.00,535.24 126.00,535.82 127.00,536.31 128.00,536.74 129.00,537.11 130.00,537.44 131.00,537.73 132.00,537.98 133.00,538.21 134.00,538.42 135.00,538.61 136.00,538.77 137.00,538.93 138.00,539.07 139.00,539.21 140.00,539.33 141.00,539.44 142.00,539.55 143.00,539.65 144.00,539.74 145.00,539.82 146.00,539.89 147.00,539.96 148.00,540.02 149.00,540.07 150.00,540.12 151.00,540.16 152.00,540.20 153.00,540.23 154.00,540.26 155.00,540.28 156.00,540.30 157.00,540.31 158.00,540.32 159.00,540.32 160.00,540.31 161.00,540.30 162.00,540.28 163.00,540.26 164.00,540.23 165.00,540.19 166.00,540.15 167.00,540.11 168.00,540.06 169.00,540.01 170.00,539.95 171.00,539.89 172.00,539.83 173.00,539.76 174.00,539.70 175.00,539.63 176.00,539.55 177.00,539.48 178.00,539.40 179.00,539.33 180.00,539.25 181.00,539.17 182.00,539.09 183.00,539.00 184.00,538.91 185.00,538.82 186.00,538.71 187.00,538.60 188.00,538.48 189.00,538.35 190.00,538.22 191.00,538.08 192.00,537.94 193.00,537.80 194.00,537.67 195.00,537.55 196.00,537.44 197.00,537.35 198.00,537.27 199.00,537.21 200.00,537.16 201.00,537.12 202.00,537.10 203.00,537.08 204.00,537.06 205.00,537.04 206.00,537.02 207.00,537.00 207.80,536.97 208.00,536.97 208.05,536.97 208.30,536.96 208.55,536.95 208.80,536.94 209.00,536.93 209.05,536.93 209.30,536.92 209.55,536.91 209.80,536.90 210.00,536.89 210.05,536.89 210.30,536.87 210.55,536.86 210.80,536.84 211.00,536.83 211.05,536.83 211.30,536.81 211.55,536.79 211.80,536.77 212.00,536.75 212.05,536.74 212.30,536.72 212.55,536.69 212.80,536.66 213.00,536.63 213.05,536.62 213.30,536.58 213.55,536.53 213.80,536.48 214.00,536.43 214.05,536.41 214.30,536.34 214.55,536.26 214.80,536.16 215.00,536.07 215.05,536.05 215.30,535.92 215.55,535.76 215.80,535.58 216.00,535.41 216.05,535.37 216.30,535.12 216.55,534.83 216.80,534.49 217.00,534.18 217.05,534.09 217.30,533.64 217.55,533.11 217.80,532.51 218.00,531.98 218.05,531.84 218.30,531.11 218.55,530.34 218.80,529.59 219.00,529.03 219.05,528.90 219.30,528.35 219.55,528.01 219.80,527.95 220.00,528.08 220.05,528.13 220.30,528.48 220.55,528.98 220.80,529.59 221.00,530.15 221.05,530.29 221.30,531.03 221.55,531.78 221.80,532.52 222.00,533.09 222.05,533.23 222.30,533.90 222.55,534.53 222.80,535.11 223.00,535.55 223.05,535.65 223.30,536.14 223.55,536.59 223.80,537.00 224.00,537.31 224.05,537.38 224.30,537.72 224.55,538.04 224.80,538.33 225.00,538.55 225.05,538.60 225.30,538.85 225.55,539.07 225.80,539.29 226.00,539.44 226.05,539.48 226.30,539.66 226.55,539.83 226.80,539.99 227.00,540.11 227.05,540.14 227.30,540.28 227.55,540.41 227.80,540.53 228.00,540.62 228.05,540.64 228.30,540.75 228.55,540.85 228.80,540.95 229.00,541.02 229.05,541.04 229.30,541.13 229.55,541.21 229.80,541.29 230.00,541.34 230.05,541.36 230.30,541.43 230.55,541.50 230.80,541.56 231.00,541.61 231.05,541.62 231.30,541.68 231.55,541.74 232.00,541.84 233.00,542.04 234.00,542.21 235.00,542.37 236.00,542.51 237.00,542.65 238.00,542.77 239.00,542.89 240.00,543.00 241.00,543.11 242.00,543.21 243.00,543.30 244.00,543.39 245.00,543.48 246.00,543.56 247.00,543.64 248.00,543.72 249.00,543.79 250.00,543.86 251.00,543.93 252.00,544.00 253.00,544.07 254.00,544.13 255.00,544.19 256.00,544.26 257.00,544.32 258.00,544.38 259.00,544.44 260.00,544.49 261.00,544.55 262.00,544.61 263.00,544.67 264.00,544.73 265.00,544.79 266.00,544.85 267.00,544.91 268.00,544.97 269.00,545.03 270.00,545.09 271.00,545.15 272.00,545.22 273.00,545.29 274.00,545.35 275.00,545.42 276.00,545.50 277.00,545.57 278.00,545.65 279.00,545.73 280.00,545.81 281.00,545.89 282.00,545.97 283.00,546.06 284.00,546.14 285.00,546.22 286.00,546.31 287.00,546.39 288.00,546.48 289.00,546.56 290.00,546.64 291.00,546.71 292.00,546.79 293.00,546.86 294.00,546.93 295.00,546.99 296.00,547.05 297.00,547.11 298.00,547.15 299.00,547.19 300.00,547.23 301.00,547.25 302.00,547.27 303.00,547.27 304.00,547.26 305.00,547.23 306.00,547.16 306.70,547.10 306.95,547.07 307.00,547.07 307.20,547.04 307.45,547.01 307.70,546.97 307.95,546.93 308.00,546.92 308.20,546.89 308.45,546.84 308.70,546.79 308.95,546.73 309.00,546.72 309.20,546.67 309.45,546.60 309.70,546.53 309.95,546.45 310.00,546.44 310.20,546.37 310.45,546.28 310.70,546.18 310.95,546.08 311.00,546.06 311.20,545.97 311.45,545.85 311.70,545.72 311.95,545.58 312.00,545.55 312.20,545.43 312.45,545.27 312.70,545.09 312.95,544.90 313.00,544.86 313.20,544.70 313.45,544.47 313.70,544.22 313.95,543.95 314.00,543.90 314.20,543.65 314.45,543.32 314.70,542.96 314.95,542.55 315.00,542.47 315.20,542.10 315.45,541.60 315.70,541.03 315.95,540.40 316.00,540.26 316.20,539.69 316.45,538.91 316.70,538.05 316.95,537.11 317.00,536.92 317.20,536.12 317.45,535.09 317.70,534.08 317.95,533.15 318.00,532.99 318.20,532.38 318.45,531.84 318.70,531.58 318.95,531.53 319.00,531.54 319.20,531.61 319.45,531.80 319.70,532.09 319.95,532.46 320.00,532.54 320.20,532.88 320.45,533.34 320.70,533.83 320.95,534.32 321.00,534.41 321.20,534.80 321.45,535.27 321.70,535.71 321.95,536.13 322.00,536.21 322.20,536.52 322.45,536.89 322.70,537.22 322.95,537.53 323.00,537.59 323.20,537.81 323.45,538.07 323.70,538.30 323.95,538.52 324.00,538.56 324.20,538.71 324.45,538.90 324.70,539.06 324.95,539.21 325.00,539.24 325.20,539.36 325.45,539.49 325.70,539.61 325.95,539.72 326.00,539.74 326.20,539.83 326.45,539.93 326.70,540.02 326.95,540.11 327.00,540.13 327.20,540.20 327.45,540.28 327.70,540.36 327.95,540.44 328.00,540.45 328.20,540.51 328.45,540.58 328.70,540.65 328.95,540.71 329.00,540.73 329.20,540.78 329.45,540.84 329.70,540.90 329.95,540.96 330.00,540.97 330.20,541.02 330.45,541.08 331.00,541.20 332.00,541.41 333.00,541.61 334.00,541.80 335.00,541.98 336.00,542.16 337.00,542.34 338.00,542.52 339.00,542.69 340.00,542.87 341.00,543.05 342.00,543.23 343.00,543.42 344.00,543.61 345.00,543.81 346.00,544.02 347.00,544.25 348.00,544.49 349.00,544.75 350.00,545.02 351.00,545.30 352.00,545.59 353.00,545.89 354.00,546.19 355.00,546.49 356.00,546.78 357.00,547.08 358.00,547.38 359.00,547.67 360.00,547.96 361.00,548.25 362.00,548.54 363.00,548.83 364.00,549.10 365.00,549.36 366.00,549.60 367.00,549.81 368.00,550.01 369.00,550.17 370.00,550.32 371.00,550.44 372.00,550.55 373.00,550.65 374.00,550.74 375.00,550.82 376.00,550.89 377.00,550.97 378.00,551.04 379.00,551.11 380.00,551.18 381.00,551.24 382.00,551.30 383.00,551.36 384.00,551.42 385.00,551.48 386.00,551.54 387.00,551.59 388.00,551.64 389.00,551.69 390.00,551.74 391.00,551.79 392.00,551.84 393.00,551.88 394.00,551.92 395.00,551.97 396.00,552.01 397.00,552.05 398.00,552.09 399.00,552.12 400.00,552.16 401.00,552.20 402.00,552.23 403.00,552.27 404.00,552.30 405.00,552.33 406.00,552.36 407.00,552.39 408.00,552.43 409.00,552.46 410.00,552.48 411.00,552.51 412.00,552.54 413.00,552.57 414.00,552.60 415.00,552.63 416.00,552.65 417.00,552.68 418.00,552.71 419.00,552.74 420.00,552.76 421.00,552.79 422.00,552.82 423.00,552.84 424.00,552.87 425.00,552.90 426.00,552.93 427.00,552.96 428.00,552.99 429.00,553.01 430.00,553.04 431.00,553.07 432.00,553.11 433.00,553.14 434.00,553.17 435.00,553.20 436.00,553.24 437.00,553.27 438.00,553.30 439.00,553.34 440.00,553.38 441.00,553.41 442.00,553.45 443.00,553.49 444.00,553.52 445.00,553.56 446.00,553.60 447.00,553.63 448.00,553.67 449.00,553.70 450.00,553.74 451.00,553.78 452.00,553.81 453.00,553.85 454.00,553.88 455.00,553.92 456.00,553.95 457.00,553.99 458.00,554.02 459.00,554.06 460.00,554.09 461.00,554.12 462.00,554.16 463.00,554.19 464.00,554.23 465.00,554.26 466.00,554.29 467.00,554.33 468.00,554.36 469.00,554.39 470.00,554.43 471.00,554.46 472.00,554.49 473.00,554.53 474.00,554.56 475.00,554.59 476.00,554.62 477.00,554.66 478.00,554.69 479.00,554.72 480.00,554.75 481.00,554.79 482.00,554.82 483.00,554.85 484.00,554.88 485.00,554.91 486.00,554.95 487.00,554.98 488.00,555.01 489.00,555.04 490.00,555.07 491.00,555.10 492.00,555.14 493.00,555.17 494.00,555.20 495.00,555.23 496.00,555.26 497.00,555.29 498.00,555.32 499.00,555.36 500.00,555.39 501.00,555.42 502.00,555.45 503.00,555.48 504.00,555.51 505.00,555.54 506.00,555.57 507.00,555.60 508.00,555.64 509.00,555.67 510.00,555.70 511.00,555.73 512.00,555.76 513.00,555.79 514.00,555.82 515.00,555.85 516.00,555.88 517.00,555.91 518.00,555.94 519.00,555.97 520.00,556.00 521.00,556.04 522.00,556.07 523.00,556.10 524.00,556.13 525.00,556.16 526.00,556.19 527.00,556.22 528.00,556.24 529.00,556.27 530.00,556.30 531.00,556.33 532.00,556.36 533.00,556.39 534.00,556.42 535.00,556.44 536.00,556.47 537.00,556.50 538.00,556.52 539.00,556.55 540.00,556.57 541.00,556.59 542.00,556.62 543.00,556.64 544.00,556.65 545.00,556.67 546.00,556.69 547.00,556.70 548.00,556.70 549.00,556.71 550.00,556.71 551.00,556.70 552.00,556.69 553.00,556.66 554.00,556.63 555.00,556.58 556.00,556.51 556.25,556.49 556.50,556.46 556.75,556.44 557.00,556.41 557.25,556.38 557.50,556.35 557.75,556.32 558.00,556.28 558.25,556.24 558.50,556.20 558.75,556.16 559.00,556.11 559.25,556.05 559.50,556.00 559.75,555.94 560.00,555.87 560.25,555.80 560.50,555.72 560.75,555.63 561.00,555.54 561.25,555.44 561.50,555.33 561.75,555.21 562.00,555.09 562.25,554.95 562.50,554.80 562.75,554.64 563.00,554.47 563.25,554.28 563.50,554.08 563.75,553.86 564.00,553.63 564.25,553.38 564.50,553.12 564.75,552.84 565.00,552.55 565.25,552.25 565.50,551.94 565.75,551.62 566.00,551.31 566.25,551.01 566.50,550.72 566.75,550.45 567.00,550.22 567.25,550.03 567.50,549.90 567.75,549.81 568.00,549.79 568.25,549.83 568.50,549.90 568.75,550.00 569.00,550.15 569.25,550.32 569.50,550.52 569.75,550.75 570.00,550.99 570.25,551.24 570.50,551.51 570.75,551.78 571.00,552.05 571.25,552.32 571.50,552.59 571.75,552.85 572.00,553.10 572.25,553.35 572.50,553.58 572.75,553.81 573.00,554.03 573.25,554.23 573.50,554.43 573.75,554.62 574.00,554.79 574.25,554.96 574.50,555.12 574.75,555.27 575.00,555.41 575.25,555.55 575.50,555.68 575.75,555.80 576.00,555.91 576.25,556.02 576.50,556.13 576.75,556.22 577.00,556.32 577.25,556.40 577.50,556.49 577.75,556.57 578.00,556.65 578.25,556.72 578.50,556.79 578.75,556.85 579.00,556.92 579.25,556.98 579.50,557.04 579.75,557.09 580.00,557.14 581.00,557.34 582.00,557.50 583.00,557.64 584.00,557.77 585.00,557.88 586.00,557.98 587.00,558.07 588.00,558.15 589.00,558.22 590.00,558.29 591.00,558.35 592.00,558.41 593.00,558.46 594.00,558.50 595.00,558.55 596.00,558.59 597.00,558.63 598.00,558.67 599.00,558.70 600.00,558.74 601.00,558.77 602.00,558.80 603.00,558.83 604.00,558.86 605.00,558.88 606.00,558.91 607.00,558.93 608.00,558.96 609.00,558.98 610.00,559.01 611.00,559.03 612.00,559.05 613.00,559.07 614.00,559.09 615.00,559.11 616.00,559.13 617.00,559.15 618.00,559.17 619.00,559.19 620.00,559.21 621.00,559.22 622.00,559.24 623.00,559.26 624.00,559.28 625.00,559.29 626.00,559.31 627.00,559.32 628.00,559.34 629.00,559.36 630.00,559.37 631.00,559.39 632.00,559.40 633.00,559.42 634.00,559.43 635.00,559.45 636.00,559.46 637.00,559.48 638.00,559.49 639.00,559.50 640.00,559.52 641.00,559.53 642.00,559.55 643.00,559.56 644.00,559.57 645.00,559.59 646.00,559.60 647.00,559.62 648.00,559.63 649.00,559.65 650.00,559.66 651.00,559.67 652.00,559.69 653.00,559.70 654.00,559.72 655.00,559.73 656.00,559.75 657.00,559.76 658.00,559.78 659.00,559.79 660.00,559.81 661.00,559.83 662.00,559.84 663.00,559.86 664.00,559.87 665.00,559.89 666.00,559.91 667.00,559.93 668.00,559.94 669.00,559.96 670.00,559.98 671.00,560.00 672.00,560.01 673.00,560.03 674.00,560.05 675.00,560.07 676.00,560.09 677.00,560.11 678.00,560.12 679.00,560.14 680.00,560.16 681.00,560.18 682.00,560.20 683.00,560.22 684.00,560.23 685.00,560.25 686.00,560.27 687.00,560.29 688.00,560.31 689.00,560.33 690.00,560.35 691.00,560.37 692.00,560.39 693.00,560.41 694.00,560.42 695.00,560.44 696.00,560.46 697.00,560.48 698.00,560.50 699.00,560.52 700.00,560.54 701.00,560.56 702.00,560.58 703.00,560.60 704.00,560.62 705.00,560.64 706.00,560.66 707.00,560.68 708.00,560.70 709.00,560.72 710.00,560.74 711.00,560.76 712.00,560.78 713.00,560.80 714.00,560.82 715.00,560.84 716.00,560.86 717.00,560.88 718.00,560.90 719.00,560.92 720.00,560.94 721.00,560.96 722.00,560.98 723.00,561.00 724.00,561.02 725.00,561.04 726.00,561.06 727.00,561.08 728.00,561.10 729.00,561.13 730.00,561.15 731.00,561.17 732.00,561.19 733.00,561.21 734.00,561.23 735.00,561.25 736.00,561.27 737.00,561.29 738.00,561.32 739.00,561.34 740.00,561.36 741.00,561.38 742.00,561.40 743.00,561.42 744.00,561.44 745.00,561.47 746.00,561.49 747.00,561.51 748.00,561.53 749.00,561.55 750.00,561.58 751.00,561.60 752.00,561.62 753.00,561.64 754.00,561.66 755.00,561.69 756.00,561.71 757.00,561.73 758.00,561.75 759.00,561.77 760.00,561.80 761.00,561.82 762.00,561.84 763.00,561.86 764.00,561.89 765.00,561.91 766.00,561.93 767.00,561.95 768.00,561.98 769.00,562.00 770.00,562.02 771.00,562.04 772.00,562.05 773.00,562.07"/>
<polyline fill="none" stroke="#4A7EBB" stroke-width="3.5" stroke-linejoin="round" points="836.50,213.28 837.50,213.27 838.50,213.25 839.50,213.24 840.50,213.22 841.50,213.21 842.50,213.19 843.50,213.17 844.50,213.16 845.50,213.14 846.50,213.12 847.50,213.11 848.50,213.09 849.50,213.07 850.50,213.05 851.50,213.04 852.50,213.02 853.50,213.00 854.50,212.98 855.50,212.96 856.50,212.94 857.50,212.92 858.50,212.90 859.50,212.88 860.50,212.86 861.50,212.83 862.50,212.81 863.50,212.79 864.50,212.77 865.50,212.74 866.50,212.72 867.50,212.70 868.50,212.67 869.50,212.65 870.50,212.62 871.50,212.60 872.50,212.57 873.50,212.54 874.50,212.52 875.50,212.49 876.50,212.46 877.50,212.43 878.50,212.40 879.50,212.37 880.50,212.34 881.50,212.31 882.50,212.28 883.50,212.25 884.50,212.21 885.50,212.18 886.50,212.15 887.50,212.11 888.50,212.08 889.50,212.04 890.50,212.00 891.50,211.96 892.50,211.93 893.50,211.89 894.50,211.85 895.50,211.81 896.50,211.76 897.50,211.72 898.50,211.68 899.50,211.63 900.50,211.59 901.50,211.54 902.50,211.49 903.50,211.44 904.50,211.39 905.50,211.34 906.50,211.29 907.50,211.24 908.50,211.18 909.50,211.12 910.50,211.07 911.50,211.01 912.50,210.95 913.50,210.89 914.50,210.82 915.50,210.76 916.50,210.69 917.50,210.62 918.50,210.55 919.50,210.48 920.50,210.41 921.50,210.33 922.50,210.25 923.50,210.17 924.50,210.09 925.50,210.01 926.50,209.92 927.50,209.83 928.50,209.74 929.50,209.65 930.50,209.55 931.50,209.45 932.50,209.35 933.50,209.24 934.50,209.14 935.50,209.02 936.50,208.91 937.50,208.79 938.50,208.67 939.50,208.54 940.50,208.42 941.50,208.28 942.50,208.14 943.50,208.00 944.50,207.86 945.50,207.70 946.50,207.55 947.50,207.39 948.50,207.22 949.50,207.04 950.50,206.87 951.50,206.68 952.50,206.49 953.50,206.29 954.50,206.08 955.50,205.87 956.50,205.64 957.50,205.41 958.50,205.17 959.50,204.92 960.50,204.66 961.50,204.39 962.50,204.11 963.50,203.82 964.50,203.51 965.50,203.19 966.50,202.85 967.50,202.50 968.50,202.13 969.50,201.74 970.50,201.34 971.50,200.91 972.50,200.47 973.50,200.00 974.50,199.50 975.50,198.98 976.50,198.43 977.50,197.85 978.50,197.24 979.50,196.60 980.50,195.92 981.50,195.20 982.50,194.44 983.50,193.63 984.50,192.78 985.50,191.88 986.50,190.93 987.50,189.92 988.50,188.85 989.50,187.72 990.50,186.53 991.50,185.27 992.50,183.94 993.50,182.53 994.50,181.04 995.50,179.47 996.50,177.82 997.50,176.07 998.50,174.24 999.50,172.31 1000.50,170.28 1001.50,168.15 1002.50,165.91 1003.50,163.57 1004.50,161.13 1005.50,158.57 1006.50,155.90 1007.50,153.12 1008.50,150.23 1009.50,147.23 1010.50,144.12 1011.50,140.91 1012.50,137.59 1013.50,134.19 1014.50,130.70 1015.50,127.13 1016.50,123.51 1017.50,119.83 1018.50,116.13 1019.50,112.41 1020.50,108.71 1021.50,105.05 1022.50,101.46 1023.50,97.98 1024.50,94.63 1025.50,91.46 1026.50,88.51 1027.50,85.81 1028.50,83.40 1029.50,81.32 1030.50,79.60 1031.50,78.28 1032.50,77.37 1033.50,76.90 1034.50,76.87 1035.50,77.31 1036.50,78.22 1037.50,79.58 1038.50,81.38 1039.50,83.58 1040.50,86.13 1041.50,89.01 1042.50,92.16 1043.50,95.55 1044.50,99.12 1045.50,102.84 1046.50,106.67 1047.50,110.57 1048.50,114.50 1049.50,118.45 1050.50,122.38 1051.50,126.26 1052.50,130.09 1053.50,133.85 1054.50,137.52 1055.50,141.09 1056.50,144.56 1057.50,147.92 1058.50,151.16 1059.50,154.29 1060.50,157.29 1061.50,160.17 1062.50,162.94 1063.50,165.58 1064.50,168.11 1065.50,170.52 1066.50,172.82 1067.50,175.01 1068.50,177.09 1069.50,179.07 1070.50,180.95 1071.50,182.73 1072.50,184.42 1073.50,186.02 1074.50,187.54 1075.50,188.97 1076.50,190.34 1077.50,191.62 1078.50,192.84 1079.50,193.99 1080.50,195.09 1081.50,196.12 1082.50,197.10 1083.50,198.02 1084.50,198.90 1085.50,199.73 1086.50,200.52 1087.50,201.27 1088.50,201.98 1089.50,202.66 1090.50,203.30 1091.50,203.91 1092.50,204.49 1093.50,205.05 1094.50,205.58 1095.50,206.09 1096.50,206.57 1097.50,207.04 1098.50,207.48 1099.50,207.91 1100.50,208.32 1101.50,208.71 1102.50,209.09 1103.50,209.45 1104.50,209.80 1105.50,210.14 1106.50,210.47 1107.50,210.79 1108.50,211.09 1109.50,211.39 1110.50,211.67 1111.50,211.95 1112.50,212.22 1113.50,212.48 1114.50,212.73 1115.50,212.98 1116.50,213.21 1117.50,213.44 1118.50,213.67 1119.50,213.89 1120.50,214.10 1121.50,214.31 1122.50,214.51 1123.50,214.71 1124.50,214.90 1125.50,215.08 1126.50,215.26 1127.50,215.44 1128.50,215.62 1129.50,215.78 1130.50,215.95 1131.50,216.11 1132.50,216.27 1133.50,216.42 1134.50,216.57 1135.50,216.72 1136.50,216.86 1137.50,217.00 1138.50,217.14 1139.50,217.27 1140.50,217.40 1141.50,217.53 1142.50,217.66 1143.50,217.78 1144.50,217.90 1145.50,218.02 1146.50,218.13 1147.50,218.24 1148.50,218.36 1149.50,218.46 1150.50,218.57 1151.50,218.67 1152.50,218.78 1153.50,218.88 1154.50,218.97 1155.50,219.07 1156.50,219.16 1157.50,219.26 1158.50,219.35 1159.50,219.44 1160.50,219.52 1161.50,219.61 1162.50,219.69 1163.50,219.78 1164.50,219.86 1165.50,219.94 1166.50,220.01 1167.50,220.09 1168.50,220.17 1169.50,220.24 1170.50,220.31 1171.50,220.38 1172.50,220.45 1173.50,220.52 1174.50,220.59 1175.50,220.66 1176.50,220.72 1177.50,220.79 1178.50,220.85 1179.50,220.91 1180.50,220.97 1181.50,221.03 1182.50,221.09 1183.50,221.15 1184.50,221.20 1185.50,221.26 1186.50,221.31 1187.50,221.37 1188.50,221.42 1189.50,221.47 1190.50,221.52 1191.50,221.57 1192.50,221.62 1193.50,221.67 1194.50,221.72 1195.50,221.77 1196.50,221.81 1197.50,221.86 1198.50,221.90 1199.50,221.95 1200.50,221.99 1201.50,222.03 1202.50,222.08 1203.50,222.12 1204.50,222.16 1205.50,222.20 1206.50,222.24 1207.50,222.28 1208.50,222.31 1209.50,222.35 1210.50,222.39 1211.50,222.42 1212.50,222.46 1213.50,222.50 1214.50,222.53 1215.50,222.56 1216.50,222.60 1217.50,222.63 1218.50,222.66 1219.50,222.69 1220.50,222.73 1221.50,222.76 1222.50,222.79 1223.50,222.82 1224.50,222.85 1225.50,222.88 1226.50,222.90 1227.50,222.93 1228.50,222.96 1229.50,222.99 1230.50,223.01 1231.50,223.04 1232.50,223.07 1233.50,223.09 1234.50,223.12 1235.50,223.14 1236.50,223.17 1237.50,223.19 1238.50,223.22 1239.50,223.24 1240.50,223.26 1241.50,223.28 1242.50,223.31 1243.50,223.33 1244.50,223.35 1245.50,223.37 1246.50,223.39 1247.50,223.41 1248.50,223.43 1249.50,223.45 1250.50,223.47 1251.50,223.49 1252.50,223.51 1253.50,223.53 1254.50,223.55 1255.50,223.57 1256.50,223.59 1257.50,223.61 1258.50,223.62 1259.50,223.64 1260.50,223.66 1261.50,223.67 1262.50,223.69 1263.50,223.71"/>
<polyline fill="none" stroke="#98B954" stroke-width="3.5" stroke-linejoin="round" points="836.50,272.46 837.50,272.45 838.50,272.44 839.50,272.43 840.50,272.42 841.50,272.41 842.50,272.40 843.50,272.38 844.50,272.37 845.50,272.36 846.50,272.35 847.50,272.34 848.50,272.33 849.50,272.32 850.50,272.31 851.50,272.29 852.50,272.28 853.50,272.27 854.50,272.26 855.50,272.24 856.50,272.23 857.50,272.22 858.50,272.20 859.50,272.19 860.50,272.18 861.50,272.16 862.50,272.15 863.50,272.13 864.50,272.12 865.50,272.11 866.50,272.09 867.50,272.07 868.50,272.06 869.50,272.04 870.50,272.03 871.50,272.01 872.50,271.99 873.50,271.98 874.50,271.96 875.50,271.94 876.50,271.92 877.50,271.90 878.50,271.89 879.50,271.87 880.50,271.85 881.50,271.83 882.50,271.81 883.50,271.79 884.50,271.77 885.50,271.75 886.50,271.72 887.50,271.70 888.50,271.68 889.50,271.66 890.50,271.63 891.50,271.61 892.50,271.58 893.50,271.56 894.50,271.53 895.50,271.51 896.50,271.48 897.50,271.45 898.50,271.43 899.50,271.40 900.50,271.37 901.50,271.34 902.50,271.31 903.50,271.28 904.50,271.25 905.50,271.22 906.50,271.18 907.50,271.15 908.50,271.12 909.50,271.08 910.50,271.04 911.50,271.01 912.50,270.97 913.50,270.93 914.50,270.89 915.50,270.85 916.50,270.81 917.50,270.77 918.50,270.72 919.50,270.68 920.50,270.63 921.50,270.58 922.50,270.53 923.50,270.48 924.50,270.43 925.50,270.38 926.50,270.33 927.50,270.27 928.50,270.21 929.50,270.15 930.50,270.09 931.50,270.03 932.50,269.96 933.50,269.90 934.50,269.83 935.50,269.75 936.50,269.68 937.50,269.60 938.50,269.52 939.50,269.43 940.50,269.35 941.50,269.26 942.50,269.16 943.50,269.06 944.50,268.96 945.50,268.85 946.50,268.73 947.50,268.61 948.50,268.49 949.50,268.35 950.50,268.22 951.50,268.07 952.50,267.91 953.50,267.75 954.50,267.57 955.50,267.39 956.50,267.19 957.50,266.98 958.50,266.76 959.50,266.53 960.50,266.27 961.50,266.01 962.50,265.72 963.50,265.42 964.50,265.09 965.50,264.75 966.50,264.38 967.50,263.98 968.50,263.56 969.50,263.11 970.50,262.63 971.50,262.12 972.50,261.57 973.50,260.99 974.50,260.37 975.50,259.71 976.50,259.00 977.50,258.25 978.50,257.46 979.50,256.61 980.50,255.71 981.50,254.76 982.50,253.75 983.50,252.68 984.50,251.55 985.50,250.36 986.50,249.11 987.50,247.78 988.50,246.39 989.50,244.93 990.50,243.39 991.50,241.78 992.50,240.10 993.50,238.34 994.50,236.51 995.50,234.59 996.50,232.60 997.50,230.54 998.50,228.39 999.50,226.18 1000.50,223.88 1001.50,221.51 1002.50,219.08 1003.50,216.57 1004.50,213.99 1005.50,211.36 1006.50,208.66 1007.50,205.91 1008.50,203.10 1009.50,200.25 1010.50,197.36 1011.50,194.44 1012.50,191.49 1013.50,188.52 1014.50,185.54 1015.50,182.56 1016.50,179.59 1017.50,176.63 1018.50,173.70 1019.50,170.81 1020.50,167.97 1021.50,165.19 1022.50,162.50 1023.50,159.89 1024.50,157.39 1025.50,155.01 1026.50,152.76 1027.50,150.67 1028.50,148.73 1029.50,146.98 1030.50,145.41 1031.50,144.05 1032.50,142.89 1033.50,141.97 1034.50,141.27 1035.50,140.82 1036.50,140.60 1037.50,140.64 1038.50,140.95 1039.50,141.54 1040.50,142.40 1041.50,143.54 1042.50,144.92 1043.50,146.56 1044.50,148.42 1045.50,150.49 1046.50,152.76 1047.50,155.21 1048.50,157.82 1049.50,160.57 1050.50,163.45 1051.50,166.43 1052.50,169.50 1053.50,172.64 1054.50,175.85 1055.50,179.09 1056.50,182.36 1057.50,185.65 1058.50,188.94 1059.50,192.23 1060.50,195.49 1061.50,198.72 1062.50,201.92 1063.50,205.07 1064.50,208.17 1065.50,211.21 1066.50,214.19 1067.50,217.10 1068.50,219.93 1069.50,222.68 1070.50,225.35 1071.50,227.94 1072.50,230.44 1073.50,232.86 1074.50,235.18 1075.50,237.42 1076.50,239.57 1077.50,241.62 1078.50,243.59 1079.50,245.47 1080.50,247.27 1081.50,248.98 1082.50,250.60 1083.50,252.14 1084.50,253.61 1085.50,255.00 1086.50,256.31 1087.50,257.55 1088.50,258.72 1089.50,259.83 1090.50,260.87 1091.50,261.86 1092.50,262.78 1093.50,263.65 1094.50,264.47 1095.50,265.24 1096.50,265.96 1097.50,266.64 1098.50,267.27 1099.50,267.87 1100.50,268.43 1101.50,268.96 1102.50,269.46 1103.50,269.92 1104.50,270.36 1105.50,270.77 1106.50,271.16 1107.50,271.53 1108.50,271.88 1109.50,272.20 1110.50,272.51 1111.50,272.81 1112.50,273.08 1113.50,273.35 1114.50,273.60 1115.50,273.84 1116.50,274.07 1117.50,274.28 1118.50,274.49 1119.50,274.69 1120.50,274.88 1121.50,275.07 1122.50,275.25 1123.50,275.42 1124.50,275.58 1125.50,275.74 1126.50,275.89 1127.50,276.04 1128.50,276.19 1129.50,276.33 1130.50,276.46 1131.50,276.60 1132.50,276.73 1133.50,276.85 1134.50,276.97 1135.50,277.09 1136.50,277.21 1137.50,277.32 1138.50,277.43 1139.50,277.54 1140.50,277.65 1141.50,277.75 1142.50,277.85 1143.50,277.95 1144.50,278.05 1145.50,278.15 1146.50,278.24 1147.50,278.33 1148.50,278.42 1149.50,278.51 1150.50,278.59 1151.50,278.68 1152.50,278.76 1153.50,278.84 1154.50,278.92 1155.50,279.00 1156.50,279.08 1157.50,279.15 1158.50,279.23 1159.50,279.30 1160.50,279.37 1161.50,279.44 1162.50,279.51 1163.50,279.58 1164.50,279.64 1165.50,279.71 1166.50,279.77 1167.50,279.84 1168.50,279.90 1169.50,279.96 1170.50,280.02 1171.50,280.08 1172.50,280.13 1173.50,280.19 1174.50,280.25 1175.50,280.30 1176.50,280.36 1177.50,280.41 1178.50,280.46 1179.50,280.51 1180.50,280.56 1181.50,280.61 1182.50,280.66 1183.50,280.71 1184.50,280.75 1185.50,280.80 1186.50,280.85 1187.50,280.89 1188.50,280.94 1189.50,280.98 1190.50,281.02 1191.50,281.06 1192.50,281.10 1193.50,281.14 1194.50,281.18 1195.50,281.22 1196.50,281.26 1197.50,281.30 1198.50,281.34 1199.50,281.37 1200.50,281.41 1201.50,281.45 1202.50,281.48 1203.50,281.52 1204.50,281.55 1205.50,281.58 1206.50,281.62 1207.50,281.65 1208.50,281.68 1209.50,281.71 1210.50,281.74 1211.50,281.77 1212.50,281.80 1213.50,281.83 1214.50,281.86 1215.50,281.89 1216.50,281.92 1217.50,281.94 1218.50,281.97 1219.50,282.00 1220.50,282.02 1221.50,282.05 1222.50,282.08 1223.50,282.10 1224.50,282.12 1225.50,282.15 1226.50,282.17 1227.50,282.20 1228.50,282.22 1229.50,282.24 1230.50,282.26 1231.50,282.29 1232.50,282.31 1233.50,282.33 1234.50,282.35 1235.50,282.37 1236.50,282.39 1237.50,282.41 1238.50,282.43 1239.50,282.45 1240.50,282.47 1241.50,282.49 1242.50,282.51 1243.50,282.53 1244.50,282.55 1245.50,282.56 1246.50,282.58 1247.50,282.60 1248.50,282.61 1249.50,282.63 1250.50,282.65 1251.50,282.66 1252.50,282.68 1253.50,282.70 1254.50,282.71 1255.50,282.73 1256.50,282.74 1257.50,282.76 1258.50,282.77 1259.50,282.79 1260.50,282.80 1261.50,282.81 1262.50,282.83 1263.50,282.84"/>
<polyline fill="none" stroke="#7D60A0" stroke-width="3.5" stroke-linejoin="round" points="836.50,338.68 837.50,338.67 838.50,338.67 839.50,338.66 840.50,338.66 841.50,338.65 842.50,338.64 843.50,338.64 844.50,338.63 845.50,338.62 846.50,338.62 847.50,338.61 848.50,338.60 849.50,338.60 850.50,338.59 851.50,338.58 852.50,338.57 853.50,338.57 854.50,338.56 855.50,338.55 856.50,338.54 857.50,338.54 858.50,338.53 859.50,338.52 860.50,338.51 861.50,338.50 862.50,338.49 863.50,338.49 864.50,338.48 865.50,338.47 866.50,338.46 867.50,338.45 868.50,338.44 869.50,338.43 870.50,338.42 871.50,338.41 872.50,338.40 873.50,338.39 874.50,338.38 875.50,338.37 876.50,338.36 877.50,338.35 878.50,338.34 879.50,338.33 880.50,338.32 881.50,338.30 882.50,338.29 883.50,338.28 884.50,338.27 885.50,338.25 886.50,338.24 887.50,338.23 888.50,338.22 889.50,338.20 890.50,338.19 891.50,338.18 892.50,338.16 893.50,338.15 894.50,338.13 895.50,338.12 896.50,338.10 897.50,338.09 898.50,338.07 899.50,338.05 900.50,338.04 901.50,338.02 902.50,338.00 903.50,337.98 904.50,337.97 905.50,337.95 906.50,337.93 907.50,337.91 908.50,337.89 909.50,337.87 910.50,337.85 911.50,337.83 912.50,337.81 913.50,337.79 914.50,337.76 915.50,337.74 916.50,337.72 917.50,337.69 918.50,337.67 919.50,337.64 920.50,337.62 921.50,337.59 922.50,337.56 923.50,337.53 924.50,337.50 925.50,337.47 926.50,337.44 927.50,337.41 928.50,337.38 929.50,337.34 930.50,337.31 931.50,337.27 932.50,337.24 933.50,337.20 934.50,337.16 935.50,337.12 936.50,337.07 937.50,337.03 938.50,336.98 939.50,336.93 940.50,336.88 941.50,336.82 942.50,336.77 943.50,336.71 944.50,336.64 945.50,336.58 946.50,336.51 947.50,336.43 948.50,336.35 949.50,336.27 950.50,336.18 951.50,336.08 952.50,335.98 953.50,335.87 954.50,335.75 955.50,335.63 956.50,335.49 957.50,335.35 958.50,335.19 959.50,335.02 960.50,334.84 961.50,334.65 962.50,334.44 963.50,334.21 964.50,333.96 965.50,333.70 966.50,333.41 967.50,333.11 968.50,332.77 969.50,332.42 970.50,332.03 971.50,331.62 972.50,331.17 973.50,330.69 974.50,330.17 975.50,329.62 976.50,329.02 977.50,328.39 978.50,327.70 979.50,326.98 980.50,326.20 981.50,325.36 982.50,324.48 983.50,323.54 984.50,322.53 985.50,321.47 986.50,320.34 987.50,319.15 988.50,317.89 989.50,316.56 990.50,315.16 991.50,313.68 992.50,312.13 993.50,310.51 994.50,308.81 995.50,307.03 996.50,305.18 997.50,303.25 998.50,301.24 999.50,299.16 1000.50,297.01 1001.50,294.78 1002.50,292.48 1003.50,290.11 1004.50,287.67 1005.50,285.17 1006.50,282.61 1007.50,280.00 1008.50,277.33 1009.50,274.63 1010.50,271.88 1011.50,269.10 1012.50,266.29 1013.50,263.46 1014.50,260.62 1015.50,257.77 1016.50,254.93 1017.50,252.10 1018.50,249.30 1019.50,246.53 1020.50,243.80 1021.50,241.12 1022.50,238.52 1023.50,235.98 1024.50,233.54 1025.50,231.19 1026.50,228.96 1027.50,226.85 1028.50,224.88 1029.50,223.06 1030.50,221.39 1031.50,219.89 1032.50,218.58 1033.50,217.44 1034.50,216.51 1035.50,215.78 1036.50,215.25 1037.50,214.94 1038.50,214.85 1039.50,214.99 1040.50,215.40 1041.50,216.08 1042.50,217.03 1043.50,218.22 1044.50,219.66 1045.50,221.34 1046.50,223.23 1047.50,225.32 1048.50,227.60 1049.50,230.06 1050.50,232.66 1051.50,235.41 1052.50,238.28 1053.50,241.25 1054.50,244.31 1055.50,247.44 1056.50,250.63 1057.50,253.86 1058.50,257.11 1059.50,260.39 1060.50,263.66 1061.50,266.92 1062.50,270.16 1063.50,273.37 1064.50,276.54 1065.50,279.66 1066.50,282.72 1067.50,285.72 1068.50,288.64 1069.50,291.49 1070.50,294.25 1071.50,296.93 1072.50,299.52 1073.50,302.02 1074.50,304.42 1075.50,306.72 1076.50,308.93 1077.50,311.04 1078.50,313.06 1079.50,314.97 1080.50,316.80 1081.50,318.52 1082.50,320.16 1083.50,321.70 1084.50,323.16 1085.50,324.53 1086.50,325.83 1087.50,327.04 1088.50,328.17 1089.50,329.24 1090.50,330.23 1091.50,331.16 1092.50,332.02 1093.50,332.83 1094.50,333.58 1095.50,334.28 1096.50,334.93 1097.50,335.53 1098.50,336.09 1099.50,336.61 1100.50,337.10 1101.50,337.55 1102.50,337.96 1103.50,338.35 1104.50,338.71 1105.50,339.04 1106.50,339.35 1107.50,339.64 1108.50,339.91 1109.50,340.17 1110.50,340.40 1111.50,340.62 1112.50,340.83 1113.50,341.03 1114.50,341.21 1115.50,341.39 1116.50,341.55 1117.50,341.71 1118.50,341.85 1119.50,341.99 1120.50,342.13 1121.50,342.26 1122.50,342.38 1123.50,342.50 1124.50,342.61 1125.50,342.72 1126.50,342.82 1127.50,342.93 1128.50,343.02 1129.50,343.12 1130.50,343.21 1131.50,343.30 1132.50,343.39 1133.50,343.47 1134.50,343.55 1135.50,343.63 1136.50,343.71 1137.50,343.79 1138.50,343.86 1139.50,343.94 1140.50,344.01 1141.50,344.08 1142.50,344.14 1143.50,344.21 1144.50,344.28 1145.50,344.34 1146.50,344.40 1147.50,344.46 1148.50,344.52 1149.50,344.58 1150.50,344.64 1151.50,344.70 1152.50,344.75 1153.50,344.81 1154.50,344.86 1155.50,344.91 1156.50,344.96 1157.50,345.01 1158.50,345.06 1159.50,345.11 1160.50,345.16 1161.50,345.20 1162.50,345.25 1163.50,345.29 1164.50,345.34 1165.50,345.38 1166.50,345.42 1167.50,345.46 1168.50,345.50 1169.50,345.54 1170.50,345.58 1171.50,345.62 1172.50,345.66 1173.50,345.69 1174.50,345.73 1175.50,345.76 1176.50,345.80 1177.50,345.83 1178.50,345.87 1179.50,345.90 1180.50,345.93 1181.50,345.96 1182.50,345.99 1183.50,346.02 1184.50,346.05 1185.50,346.08 1186.50,346.11 1187.50,346.14 1188.50,346.17 1189.50,346.20 1190.50,346.22 1191.50,346.25 1192.50,346.27 1193.50,346.30 1194.50,346.32 1195.50,346.35 1196.50,346.37 1197.50,346.40 1198.50,346.42 1199.50,346.44 1200.50,346.46 1201.50,346.48 1202.50,346.51 1203.50,346.53 1204.50,346.55 1205.50,346.57 1206.50,346.59 1207.50,346.61 1208.50,346.63 1209.50,346.65 1210.50,346.66 1211.50,346.68 1212.50,346.70 1213.50,346.72 1214.50,346.73 1215.50,346.75 1216.50,346.77 1217.50,346.78 1218.50,346.80 1219.50,346.81 1220.50,346.83 1221.50,346.85 1222.50,346.86 1223.50,346.87 1224.50,346.89 1225.50,346.90 1226.50,346.92 1227.50,346.93 1228.50,346.94 1229.50,346.96 1230.50,346.97 1231.50,346.98 1232.50,346.99 1233.50,347.01 1234.50,347.02 1235.50,347.03 1236.50,347.04 1237.50,347.05 1238.50,347.06 1239.50,347.07 1240.50,347.09 1241.50,347.10 1242.50,347.11 1243.50,347.12 1244.50,347.13 1245.50,347.14 1246.50,347.15 1247.50,347.16 1248.50,347.16 1249.50,347.17 1250.50,347.18 1251.50,347.19 1252.50,347.20 1253.50,347.21 1254.50,347.22 1255.50,347.23 1256.50,347.23 1257.50,347.24 1258.50,347.25 1259.50,347.26 1260.50,347.27 1261.50,347.27 1262.50,347.28 1263.50,347.29"/>
<polyline fill="none" stroke="#7F7F7F" stroke-width="3.5" stroke-linejoin="round" points="836.50,406.35 837.50,406.34 838.50,406.33 839.50,406.31 840.50,406.30 841.50,406.29 842.50,406.27 843.50,406.26 844.50,406.25 845.50,406.23 846.50,406.22 847.50,406.21 848.50,406.19 849.50,406.18 850.50,406.16 851.50,406.15 852.50,406.13 853.50,406.12 854.50,406.10 855.50,406.09 856.50,406.07 857.50,406.05 858.50,406.04 859.50,406.02 860.50,406.00 861.50,405.99 862.50,405.97 863.50,405.95 864.50,405.93 865.50,405.91 866.50,405.89 867.50,405.87 868.50,405.86 869.50,405.84 870.50,405.82 871.50,405.79 872.50,405.77 873.50,405.75 874.50,405.73 875.50,405.71 876.50,405.69 877.50,405.66 878.50,405.64 879.50,405.62 880.50,405.59 881.50,405.57 882.50,405.54 883.50,405.52 884.50,405.49 885.50,405.46 886.50,405.44 887.50,405.41 888.50,405.38 889.50,405.35 890.50,405.32 891.50,405.29 892.50,405.26 893.50,405.23 894.50,405.20 895.50,405.17 896.50,405.14 897.50,405.10 898.50,405.07 899.50,405.03 900.50,405.00 901.50,404.96 902.50,404.93 903.50,404.89 904.50,404.85 905.50,404.81 906.50,404.77 907.50,404.73 908.50,404.69 909.50,404.64 910.50,404.60 911.50,404.55 912.50,404.51 913.50,404.46 914.50,404.41 915.50,404.36 916.50,404.31 917.50,404.26 918.50,404.21 919.50,404.15 920.50,404.10 921.50,404.04 922.50,403.98 923.50,403.92 924.50,403.86 925.50,403.79 926.50,403.73 927.50,403.66 928.50,403.59 929.50,403.52 930.50,403.44 931.50,403.37 932.50,403.29 933.50,403.21 934.50,403.12 935.50,403.03 936.50,402.94 937.50,402.85 938.50,402.75 939.50,402.65 940.50,402.55 941.50,402.44 942.50,402.33 943.50,402.21 944.50,402.09 945.50,401.96 946.50,401.83 947.50,401.69 948.50,401.55 949.50,401.39 950.50,401.24 951.50,401.07 952.50,400.90 953.50,400.71 954.50,400.52 955.50,400.32 956.50,400.11 957.50,399.88 958.50,399.65 959.50,399.40 960.50,399.14 961.50,398.87 962.50,398.58 963.50,398.27 964.50,397.95 965.50,397.62 966.50,397.26 967.50,396.88 968.50,396.49 969.50,396.07 970.50,395.63 971.50,395.16 972.50,394.67 973.50,394.16 974.50,393.61 975.50,393.04 976.50,392.44 977.50,391.81 978.50,391.15 979.50,390.45 980.50,389.72 981.50,388.95 982.50,388.15 983.50,387.31 984.50,386.43 985.50,385.51 986.50,384.55 987.50,383.55 988.50,382.50 989.50,381.41 990.50,380.28 991.50,379.10 992.50,377.88 993.50,376.61 994.50,375.30 995.50,373.93 996.50,372.53 997.50,371.07 998.50,369.57 999.50,368.03 1000.50,366.44 1001.50,364.80 1002.50,363.13 1003.50,361.41 1004.50,359.65 1005.50,357.85 1006.50,356.02 1007.50,354.15 1008.50,352.24 1009.50,350.31 1010.50,348.35 1011.50,346.37 1012.50,344.37 1013.50,342.36 1014.50,340.33 1015.50,338.30 1016.50,336.27 1017.50,334.24 1018.50,332.22 1019.50,330.23 1020.50,328.25 1021.50,326.31 1022.50,324.41 1023.50,322.56 1024.50,320.76 1025.50,319.03 1026.50,317.38 1027.50,315.81 1028.50,314.33 1029.50,312.95 1030.50,311.69 1031.50,310.54 1032.50,309.53 1033.50,308.65 1034.50,307.91 1035.50,307.31 1036.50,306.88 1037.50,306.59 1038.50,306.47 1039.50,306.51 1040.50,306.77 1041.50,307.22 1042.50,307.88 1043.50,308.74 1044.50,309.78 1045.50,310.99 1046.50,312.38 1047.50,313.91 1048.50,315.59 1049.50,317.39 1050.50,319.31 1051.50,321.32 1052.50,323.42 1053.50,325.59 1054.50,327.83 1055.50,330.11 1056.50,332.42 1057.50,334.76 1058.50,337.12 1059.50,339.48 1060.50,341.84 1061.50,344.19 1062.50,346.52 1063.50,348.83 1064.50,351.11 1065.50,353.36 1066.50,355.56 1067.50,357.73 1068.50,359.85 1069.50,361.91 1070.50,363.93 1071.50,365.89 1072.50,367.79 1073.50,369.64 1074.50,371.42 1075.50,373.15 1076.50,374.82 1077.50,376.42 1078.50,377.97 1079.50,379.45 1080.50,380.88 1081.50,382.24 1082.50,383.55 1083.50,384.80 1084.50,385.99 1085.50,387.13 1086.50,388.21 1087.50,389.24 1088.50,390.22 1089.50,391.16 1090.50,392.04 1091.50,392.88 1092.50,393.67 1093.50,394.42 1094.50,395.14 1095.50,395.81 1096.50,396.44 1097.50,397.05 1098.50,397.61 1099.50,398.15 1100.50,398.66 1101.50,399.14 1102.50,399.59 1103.50,400.02 1104.50,400.42 1105.50,400.80 1106.50,401.16 1107.50,401.50 1108.50,401.83 1109.50,402.13 1110.50,402.42 1111.50,402.70 1112.50,402.96 1113.50,403.20 1114.50,403.44 1115.50,403.66 1116.50,403.88 1117.50,404.08 1118.50,404.27 1119.50,404.46 1120.50,404.64 1121.50,404.81 1122.50,404.97 1123.50,405.13 1124.50,405.28 1125.50,405.42 1126.50,405.56 1127.50,405.70 1128.50,405.83 1129.50,405.96 1130.50,406.08 1131.50,406.19 1132.50,406.31 1133.50,406.42 1134.50,406.53 1135.50,406.63 1136.50,406.73 1137.50,406.83 1138.50,406.93 1139.50,407.02 1140.50,407.11 1141.50,407.20 1142.50,407.29 1143.50,407.37 1144.50,407.45 1145.50,407.53 1146.50,407.61 1147.50,407.69 1148.50,407.76 1149.50,407.84 1150.50,407.91 1151.50,407.98 1152.50,408.05 1153.50,408.11 1154.50,408.18 1155.50,408.24 1156.50,408.31 1157.50,408.37 1158.50,408.43 1159.50,408.49 1160.50,408.55 1161.50,408.60 1162.50,408.66 1163.50,408.71 1164.50,408.77 1165.50,408.82 1166.50,408.87 1167.50,408.92 1168.50,408.97 1169.50,409.02 1170.50,409.07 1171.50,409.11 1172.50,409.16 1173.50,409.21 1174.50,409.25 1175.50,409.29 1176.50,409.34 1177.50,409.38 1178.50,409.42 1179.50,409.46 1180.50,409.50 1181.50,409.54 1182.50,409.58 1183.50,409.61 1184.50,409.65 1185.50,409.69 1186.50,409.72 1187.50,409.76 1188.50,409.79 1189.50,409.83 1190.50,409.86 1191.50,409.89 1192.50,409.93 1193.50,409.96 1194.50,409.99 1195.50,410.02 1196.50,410.05 1197.50,410.08 1198.50,410.11 1199.50,410.14 1200.50,410.17 1201.50,410.19 1202.50,410.22 1203.50,410.25 1204.50,410.27 1205.50,410.30 1206.50,410.33 1207.50,410.35 1208.50,410.38 1209.50,410.40 1210.50,410.43 1211.50,410.45 1212.50,410.47 1213.50,410.50 1214.50,410.52 1215.50,410.54 1216.50,410.56 1217.50,410.58 1218.50,410.61 1219.50,410.63 1220.50,410.65 1221.50,410.67 1222.50,410.69 1223.50,410.71 1224.50,410.73 1225.50,410.75 1226.50,410.76 1227.50,410.78 1228.50,410.80 1229.50,410.82 1230.50,410.84 1231.50,410.85 1232.50,410.87 1233.50,410.89 1234.50,410.90 1235.50,410.92 1236.50,410.94 1237.50,410.95 1238.50,410.97 1239.50,410.98 1240.50,411.00 1241.50,411.02 1242.50,411.03 1243.50,411.04 1244.50,411.06 1245.50,411.07 1246.50,411.09 1247.50,411.10 1248.50,411.12 1249.50,411.13 1250.50,411.14 1251.50,411.15 1252.50,411.17 1253.50,411.18 1254.50,411.19 1255.50,411.21 1256.50,411.22 1257.50,411.23 1258.50,411.24 1259.50,411.25 1260.50,411.26 1261.50,411.28 1262.50,411.29 1263.50,411.30"/>
<polyline fill="none" stroke="#BE4B48" stroke-width="3.5" stroke-linejoin="round" points="836.50,464.75 837.50,464.73 838.50,464.72 839.50,464.70 840.50,464.68 841.50,464.67 842.50,464.65 843.50,464.64 844.50,464.62 845.50,464.60 846.50,464.59 847.50,464.57 848.50,464.55 849.50,464.53 850.50,464.52 851.50,464.50 852.50,464.48 853.50,464.46 854.50,464.44 855.50,464.42 856.50,464.40 857.50,464.38 858.50,464.36 859.50,464.34 860.50,464.32 861.50,464.30 862.50,464.28 863.50,464.26 864.50,464.23 865.50,464.21 866.50,464.19 867.50,464.16 868.50,464.14 869.50,464.12 870.50,464.09 871.50,464.07 872.50,464.04 873.50,464.01 874.50,463.99 875.50,463.96 876.50,463.93 877.50,463.91 878.50,463.88 879.50,463.85 880.50,463.82 881.50,463.79 882.50,463.76 883.50,463.73 884.50,463.70 885.50,463.67 886.50,463.63 887.50,463.60 888.50,463.57 889.50,463.53 890.50,463.50 891.50,463.46 892.50,463.42 893.50,463.39 894.50,463.35 895.50,463.31 896.50,463.27 897.50,463.23 898.50,463.19 899.50,463.15 900.50,463.10 901.50,463.06 902.50,463.02 903.50,462.97 904.50,462.92 905.50,462.88 906.50,462.83 907.50,462.78 908.50,462.73 909.50,462.67 910.50,462.62 911.50,462.57 912.50,462.51 913.50,462.45 914.50,462.40 915.50,462.34 916.50,462.27 917.50,462.21 918.50,462.15 919.50,462.08 920.50,462.01 921.50,461.94 922.50,461.87 923.50,461.80 924.50,461.72 925.50,461.64 926.50,461.56 927.50,461.48 928.50,461.40 929.50,461.31 930.50,461.22 931.50,461.13 932.50,461.03 933.50,460.93 934.50,460.83 935.50,460.72 936.50,460.61 937.50,460.50 938.50,460.38 939.50,460.26 940.50,460.13 941.50,460.00 942.50,459.87 943.50,459.72 944.50,459.58 945.50,459.42 946.50,459.26 947.50,459.10 948.50,458.93 949.50,458.74 950.50,458.56 951.50,458.36 952.50,458.15 953.50,457.94 954.50,457.72 955.50,457.48 956.50,457.24 957.50,456.98 958.50,456.71 959.50,456.43 960.50,456.14 961.50,455.83 962.50,455.51 963.50,455.18 964.50,454.83 965.50,454.46 966.50,454.07 967.50,453.67 968.50,453.25 969.50,452.81 970.50,452.35 971.50,451.87 972.50,451.36 973.50,450.84 974.50,450.29 975.50,449.71 976.50,449.11 977.50,448.49 978.50,447.84 979.50,447.16 980.50,446.45 981.50,445.72 982.50,444.95 983.50,444.16 984.50,443.33 985.50,442.47 986.50,441.58 987.50,440.66 988.50,439.70 989.50,438.71 990.50,437.68 991.50,436.62 992.50,435.53 993.50,434.39 994.50,433.23 995.50,432.03 996.50,430.79 997.50,429.52 998.50,428.21 999.50,426.87 1000.50,425.49 1001.50,424.08 1002.50,422.64 1003.50,421.16 1004.50,419.66 1005.50,418.12 1006.50,416.55 1007.50,414.96 1008.50,413.34 1009.50,411.70 1010.50,410.04 1011.50,408.36 1012.50,406.66 1013.50,404.95 1014.50,403.23 1015.50,401.50 1016.50,399.77 1017.50,398.05 1018.50,396.32 1019.50,394.61 1020.50,392.92 1021.50,391.24 1022.50,389.59 1023.50,387.98 1024.50,386.41 1025.50,384.88 1026.50,383.40 1027.50,381.99 1028.50,380.64 1029.50,379.37 1030.50,378.17 1031.50,377.07 1032.50,376.06 1033.50,375.15 1034.50,374.35 1035.50,373.67 1036.50,373.10 1037.50,372.65 1038.50,372.33 1039.50,372.13 1040.50,372.06 1041.50,372.15 1042.50,372.43 1043.50,372.91 1044.50,373.58 1045.50,374.44 1046.50,375.47 1047.50,376.67 1048.50,378.02 1049.50,379.52 1050.50,381.14 1051.50,382.88 1052.50,384.71 1053.50,386.64 1054.50,388.64 1055.50,390.71 1056.50,392.82 1057.50,394.97 1058.50,397.15 1059.50,399.35 1060.50,401.55 1061.50,403.76 1062.50,405.95 1063.50,408.13 1064.50,410.29 1065.50,412.43 1066.50,414.53 1067.50,416.60 1068.50,418.63 1069.50,420.61 1070.50,422.55 1071.50,424.44 1072.50,426.28 1073.50,428.07 1074.50,429.81 1075.50,431.49 1076.50,433.12 1077.50,434.70 1078.50,436.22 1079.50,437.68 1080.50,439.09 1081.50,440.45 1082.50,441.75 1083.50,443.00 1084.50,444.20 1085.50,445.35 1086.50,446.44 1087.50,447.49 1088.50,448.49 1089.50,449.45 1090.50,450.36 1091.50,451.22 1092.50,452.05 1093.50,452.83 1094.50,453.58 1095.50,454.29 1096.50,454.97 1097.50,455.61 1098.50,456.21 1099.50,456.79 1100.50,457.34 1101.50,457.86 1102.50,458.36 1103.50,458.83 1104.50,459.27 1105.50,459.69 1106.50,460.10 1107.50,460.48 1108.50,460.84 1109.50,461.19 1110.50,461.52 1111.50,461.83 1112.50,462.13 1113.50,462.42 1114.50,462.69 1115.50,462.95 1116.50,463.20 1117.50,463.44 1118.50,463.66 1119.50,463.88 1120.50,464.09 1121.50,464.30 1122.50,464.49 1123.50,464.68 1124.50,464.86 1125.50,465.03 1126.50,465.20 1127.50,465.36 1128.50,465.52 1129.50,465.67 1130.50,465.82 1131.50,465.96 1132.50,466.10 1133.50,466.23 1134.50,466.36 1135.50,466.49 1136.50,466.61 1137.50,466.73 1138.50,466.85 1139.50,466.96 1140.50,467.08 1141.50,467.18 1142.50,467.29 1143.50,467.39 1144.50,467.49 1145.50,467.59 1146.50,467.69 1147.50,467.78 1148.50,467.87 1149.50,467.96 1150.50,468.05 1151.50,468.14 1152.50,468.22 1153.50,468.31 1154.50,468.39 1155.50,468.47 1156.50,468.54 1157.50,468.62 1158.50,468.69 1159.50,468.77 1160.50,468.84 1161.50,468.91 1162.50,468.98 1163.50,469.05 1164.50,469.11 1165.50,469.18 1166.50,469.24 1167.50,469.30 1168.50,469.37 1169.50,469.43 1170.50,469.49 1171.50,469.54 1172.50,469.60 1173.50,469.66 1174.50,469.71 1175.50,469.77 1176.50,469.82 1177.50,469.87 1178.50,469.92 1179.50,469.97 1180.50,470.02 1181.50,470.07 1182.50,470.12 1183.50,470.17 1184.50,470.21 1185.50,470.26 1186.50,470.30 1187.50,470.35 1188.50,470.39 1189.50,470.43 1190.50,470.47 1191.50,470.52 1192.50,470.56 1193.50,470.60 1194.50,470.63 1195.50,470.67 1196.50,470.71 1197.50,470.75 1198.50,470.79 1199.50,470.82 1200.50,470.86 1201.50,470.89 1202.50,470.93 1203.50,470.96 1204.50,470.99 1205.50,471.03 1206.50,471.06 1207.50,471.09 1208.50,471.12 1209.50,471.15 1210.50,471.18 1211.50,471.21 1212.50,471.24 1213.50,471.27 1214.50,471.30 1215.50,471.33 1216.50,471.35 1217.50,471.38 1218.50,471.41 1219.50,471.43 1220.50,471.46 1221.50,471.49 1222.50,471.51 1223.50,471.54 1224.50,471.56 1225.50,471.58 1226.50,471.61 1227.50,471.63 1228.50,471.65 1229.50,471.68 1230.50,471.70 1231.50,471.72 1232.50,471.74 1233.50,471.76 1234.50,471.78 1235.50,471.81 1236.50,471.83 1237.50,471.85 1238.50,471.87 1239.50,471.89 1240.50,471.90 1241.50,471.92 1242.50,471.94 1243.50,471.96 1244.50,471.98 1245.50,472.00 1246.50,472.01 1247.50,472.03 1248.50,472.05 1249.50,472.07 1250.50,472.08 1251.50,472.10 1252.50,472.12 1253.50,472.13 1254.50,472.15 1255.50,472.16 1256.50,472.18 1257.50,472.19 1258.50,472.21 1259.50,472.22 1260.50,472.24 1261.50,472.25 1262.50,472.27 1263.50,472.28"/>
<polyline fill="none" stroke="#F69240" stroke-width="3.5" stroke-linejoin="round" points="836.50,530.94 837.50,530.93 838.50,530.91 839.50,530.89 840.50,530.87 841.50,530.86 842.50,530.84 843.50,530.82 844.50,530.80 845.50,530.78 846.50,530.76 847.50,530.74 848.50,530.72 849.50,530.70 850.50,530.68 851.50,530.66 852.50,530.64 853.50,530.62 854.50,530.59 855.50,530.57 856.50,530.55 857.50,530.53 858.50,530.50 859.50,530.48 860.50,530.46 861.50,530.43 862.50,530.41 863.50,530.38 864.50,530.36 865.50,530.33 866.50,530.30 867.50,530.28 868.50,530.25 869.50,530.22 870.50,530.19 871.50,530.16 872.50,530.14 873.50,530.11 874.50,530.08 875.50,530.04 876.50,530.01 877.50,529.98 878.50,529.95 879.50,529.92 880.50,529.88 881.50,529.85 882.50,529.81 883.50,529.78 884.50,529.74 885.50,529.71 886.50,529.67 887.50,529.63 888.50,529.59 889.50,529.55 890.50,529.51 891.50,529.47 892.50,529.43 893.50,529.39 894.50,529.34 895.50,529.30 896.50,529.26 897.50,529.21 898.50,529.16 899.50,529.12 900.50,529.07 901.50,529.02 902.50,528.97 903.50,528.91 904.50,528.86 905.50,528.81 906.50,528.75 907.50,528.70 908.50,528.64 909.50,528.58 910.50,528.52 911.50,528.46 912.50,528.40 913.50,528.33 914.50,528.27 915.50,528.20 916.50,528.13 917.50,528.06 918.50,527.99 919.50,527.91 920.50,527.84 921.50,527.76 922.50,527.68 923.50,527.60 924.50,527.52 925.50,527.43 926.50,527.34 927.50,527.25 928.50,527.16 929.50,527.06 930.50,526.96 931.50,526.86 932.50,526.75 933.50,526.65 934.50,526.53 935.50,526.42 936.50,526.30 937.50,526.18 938.50,526.05 939.50,525.92 940.50,525.78 941.50,525.64 942.50,525.50 943.50,525.35 944.50,525.19 945.50,525.03 946.50,524.86 947.50,524.69 948.50,524.51 949.50,524.32 950.50,524.13 951.50,523.93 952.50,523.72 953.50,523.50 954.50,523.27 955.50,523.04 956.50,522.79 957.50,522.54 958.50,522.27 959.50,522.00 960.50,521.71 961.50,521.41 962.50,521.10 963.50,520.78 964.50,520.44 965.50,520.09 966.50,519.73 967.50,519.35 968.50,518.96 969.50,518.55 970.50,518.12 971.50,517.68 972.50,517.22 973.50,516.74 974.50,516.25 975.50,515.73 976.50,515.20 977.50,514.64 978.50,514.06 979.50,513.47 980.50,512.85 981.50,512.21 982.50,511.54 983.50,510.86 984.50,510.15 985.50,509.41 986.50,508.66 987.50,507.87 988.50,507.07 989.50,506.23 990.50,505.37 991.50,504.49 992.50,503.58 993.50,502.64 994.50,501.68 995.50,500.70 996.50,499.68 997.50,498.64 998.50,497.58 999.50,496.49 1000.50,495.38 1001.50,494.24 1002.50,493.08 1003.50,491.90 1004.50,490.70 1005.50,489.47 1006.50,488.23 1007.50,486.97 1008.50,485.69 1009.50,484.40 1010.50,483.09 1011.50,481.77 1012.50,480.45 1013.50,479.11 1014.50,477.78 1015.50,476.44 1016.50,475.11 1017.50,473.78 1018.50,472.46 1019.50,471.16 1020.50,469.87 1021.50,468.61 1022.50,467.37 1023.50,466.17 1024.50,465.00 1025.50,463.88 1026.50,462.80 1027.50,461.77 1028.50,460.81 1029.50,459.91 1030.50,459.07 1031.50,458.32 1032.50,457.64 1033.50,457.04 1034.50,456.53 1035.50,456.12 1036.50,455.80 1037.50,455.57 1038.50,455.45 1039.50,455.43 1040.50,455.51 1041.50,455.72 1042.50,456.07 1043.50,456.56 1044.50,457.17 1045.50,457.91 1046.50,458.76 1047.50,459.73 1048.50,460.80 1049.50,461.96 1050.50,463.21 1051.50,464.54 1052.50,465.93 1053.50,467.39 1054.50,468.90 1055.50,470.45 1056.50,472.04 1057.50,473.65 1058.50,475.28 1059.50,476.93 1060.50,478.59 1061.50,480.24 1062.50,481.90 1063.50,483.54 1064.50,485.17 1065.50,486.79 1066.50,488.38 1067.50,489.96 1068.50,491.50 1069.50,493.02 1070.50,494.51 1071.50,495.97 1072.50,497.40 1073.50,498.79 1074.50,500.14 1075.50,501.46 1076.50,502.75 1077.50,503.99 1078.50,505.20 1079.50,506.38 1080.50,507.51 1081.50,508.61 1082.50,509.67 1083.50,510.69 1084.50,511.68 1085.50,512.63 1086.50,513.55 1087.50,514.43 1088.50,515.28 1089.50,516.09 1090.50,516.88 1091.50,517.63 1092.50,518.35 1093.50,519.04 1094.50,519.70 1095.50,520.33 1096.50,520.93 1097.50,521.51 1098.50,522.07 1099.50,522.60 1100.50,523.10 1101.50,523.58 1102.50,524.04 1103.50,524.48 1104.50,524.90 1105.50,525.30 1106.50,525.69 1107.50,526.05 1108.50,526.40 1109.50,526.73 1110.50,527.05 1111.50,527.35 1112.50,527.64 1113.50,527.92 1114.50,528.18 1115.50,528.43 1116.50,528.68 1117.50,528.91 1118.50,529.13 1119.50,529.34 1120.50,529.54 1121.50,529.73 1122.50,529.92 1123.50,530.10 1124.50,530.27 1125.50,530.43 1126.50,530.59 1127.50,530.74 1128.50,530.89 1129.50,531.03 1130.50,531.17 1131.50,531.30 1132.50,531.42 1133.50,531.54 1134.50,531.66 1135.50,531.78 1136.50,531.89 1137.50,531.99 1138.50,532.10 1139.50,532.20 1140.50,532.29 1141.50,532.39 1142.50,532.48 1143.50,532.57 1144.50,532.65 1145.50,532.74 1146.50,532.82 1147.50,532.90 1148.50,532.97 1149.50,533.05 1150.50,533.12 1151.50,533.19 1152.50,533.26 1153.50,533.33 1154.50,533.39 1155.50,533.46 1156.50,533.52 1157.50,533.58 1158.50,533.64 1159.50,533.70 1160.50,533.76 1161.50,533.81 1162.50,533.87 1163.50,533.92 1164.50,533.97 1165.50,534.02 1166.50,534.07 1167.50,534.12 1168.50,534.17 1169.50,534.21 1170.50,534.26 1171.50,534.30 1172.50,534.35 1173.50,534.39 1174.50,534.43 1175.50,534.47 1176.50,534.51 1177.50,534.55 1178.50,534.59 1179.50,534.63 1180.50,534.67 1181.50,534.70 1182.50,534.74 1183.50,534.77 1184.50,534.81 1185.50,534.84 1186.50,534.87 1187.50,534.90 1188.50,534.94 1189.50,534.97 1190.50,535.00 1191.50,535.03 1192.50,535.06 1193.50,535.09 1194.50,535.11 1195.50,535.14 1196.50,535.17 1197.50,535.20 1198.50,535.22 1199.50,535.25 1200.50,535.27 1201.50,535.30 1202.50,535.32 1203.50,535.35 1204.50,535.37 1205.50,535.39 1206.50,535.42 1207.50,535.44 1208.50,535.46 1209.50,535.48 1210.50,535.50 1211.50,535.52 1212.50,535.54 1213.50,535.57 1214.50,535.58 1215.50,535.60 1216.50,535.62 1217.50,535.64 1218.50,535.66 1219.50,535.68 1220.50,535.70 1221.50,535.72 1222.50,535.73 1223.50,535.75 1224.50,535.77 1225.50,535.78 1226.50,535.80 1227.50,535.82 1228.50,535.83 1229.50,535.85 1230.50,535.86 1231.50,535.88 1232.50,535.89 1233.50,535.91 1234.50,535.92 1235.50,535.94 1236.50,535.95 1237.50,535.97 1238.50,535.98 1239.50,535.99 1240.50,536.01 1241.50,536.02 1242.50,536.03 1243.50,536.05 1244.50,536.06 1245.50,536.07 1246.50,536.08 1247.50,536.09 1248.50,536.11 1249.50,536.12 1250.50,536.13 1251.50,536.14 1252.50,536.15 1253.50,536.16 1254.50,536.17 1255.50,536.19 1256.50,536.20 1257.50,536.21 1258.50,536.22 1259.50,536.23 1260.50,536.24 1261.50,536.25 1262.50,536.26 1263.50,536.27"/>
<line x1="604" y1="215.3" x2="648" y2="215.3" stroke="#4A7EBB" stroke-width="4"/>
<line x1="604" y1="280.8" x2="648" y2="280.8" stroke="#98B954" stroke-width="4"/>
<line x1="604" y1="346.4" x2="648" y2="346.4" stroke="#7D60A0" stroke-width="4"/>
<line x1="604" y1="411.9" x2="648" y2="411.9" stroke="#7F7F7F" stroke-width="4"/>
<line x1="604" y1="477.5" x2="648" y2="477.5" stroke="#BE4B48" stroke-width="4"/>
<line x1="604" y1="543.0" x2="648" y2="543.0" stroke="#F69240" stroke-width="4"/>
<line x1="1100.7" y1="183.6" x2="1143.5" y2="183.6" stroke="#4A7EBB" stroke-width="3.5"/>
<line x1="1100.7" y1="250.5" x2="1143.5" y2="250.5" stroke="#98B954" stroke-width="3.5"/>
<line x1="1100.7" y1="317.3" x2="1143.5" y2="317.3" stroke="#7D60A0" stroke-width="3.5"/>
<line x1="1100.7" y1="384.2" x2="1143.5" y2="384.2" stroke="#7F7F7F" stroke-width="3.5"/>
<line x1="1100.7" y1="451.0" x2="1143.5" y2="451.0" stroke="#BE4B48" stroke-width="3.5"/>
<line x1="1100.7" y1="517.9" x2="1143.5" y2="517.9" stroke="#F69240" stroke-width="3.5"/>
<text x="649.80" y="225.00" font-size="32.69" textLength="108.86" lengthAdjust="spacingAndGlyphs">x = 0.20</text>
<text x="649.80" y="291.12" font-size="32.69" textLength="108.86" lengthAdjust="spacingAndGlyphs">x = 0.23</text>
<text x="649.80" y="356.24" font-size="32.69" textLength="107.85" lengthAdjust="spacingAndGlyphs">x = 0.24</text>
<text x="649.80" y="422.36" font-size="32.69" textLength="108.86" lengthAdjust="spacingAndGlyphs">x = 0.25</text>
<text x="649.80" y="487.48" font-size="32.69" textLength="108.86" lengthAdjust="spacingAndGlyphs">x = 0.27</text>
<text x="649.80" y="553.60" font-size="32.69" textLength="108.86" lengthAdjust="spacingAndGlyphs">x = 0.28</text>
<text x="1147.00" y="193.00" font-size="31.22" textLength="107.86" lengthAdjust="spacingAndGlyphs">x = 0.20</text>
<text x="1147.00" y="260.08" font-size="31.22" textLength="107.86" lengthAdjust="spacingAndGlyphs">x = 0.23</text>
<text x="1147.00" y="327.16" font-size="31.22" textLength="107.85" lengthAdjust="spacingAndGlyphs">x = 0.24</text>
<text x="1147.00" y="394.24" font-size="31.22" textLength="107.86" lengthAdjust="spacingAndGlyphs">x = 0.25</text>
<text x="1147.00" y="461.32" font-size="31.22" textLength="107.86" lengthAdjust="spacingAndGlyphs">x = 0.27</text>
<text x="1147.00" y="527.40" font-size="31.22" textLength="107.86" lengthAdjust="spacingAndGlyphs">x = 0.28</text>
<text x="41.00" y="681.40" font-size="32.08" textLength="18.41" lengthAdjust="spacingAndGlyphs">5</text>
<text x="202.80" y="681.40" font-size="32.08" textLength="34.72" lengthAdjust="spacingAndGlyphs">25</text>
<text x="373.80" y="681.40" font-size="32.08" textLength="33.56" lengthAdjust="spacingAndGlyphs">45</text>
<text x="542.80" y="681.40" font-size="32.08" textLength="34.68" lengthAdjust="spacingAndGlyphs">65</text>
<text x="712.80" y="681.40" font-size="32.08" textLength="33.70" lengthAdjust="spacingAndGlyphs">85</text>
<text x="818.60" y="681.80" font-size="32.08" textLength="35.62" lengthAdjust="spacingAndGlyphs">10</text>
<text x="903.80" y="681.80" font-size="32.08" textLength="36.80" lengthAdjust="spacingAndGlyphs">11</text>
<text x="989.00" y="681.80" font-size="32.08" textLength="36.89" lengthAdjust="spacingAndGlyphs">12</text>
<text x="1075.20" y="681.80" font-size="32.08" textLength="35.62" lengthAdjust="spacingAndGlyphs">13</text>
<text x="1160.40" y="681.80" font-size="32.08" textLength="35.65" lengthAdjust="spacingAndGlyphs">14</text>
<text x="1245.60" y="681.80" font-size="32.08" textLength="35.65" lengthAdjust="spacingAndGlyphs">15</text>
<text x="320.20" y="729.00" font-size="29.60" class="bd" textLength="192.86" lengthAdjust="spacingAndGlyphs">2 theta (deg.)</text>
<text x="951.40" y="729.60" font-size="29.60" class="bd" textLength="191.42" lengthAdjust="spacingAndGlyphs">2 theta (deg.)</text>
<text x="0" y="0" font-size="30.80" class="bd" textLength="206.60" lengthAdjust="spacingAndGlyphs" transform="translate(25.00,410.00) rotate(-90)">Intensity (a.u.)</text>
<text x="0" y="0" font-size="29.53" class="bd" textLength="205.46" lengthAdjust="spacingAndGlyphs" transform="translate(820.10,423.60) rotate(-90)">Intensity (a.u.)</text>
<text x="77.00" y="46.40" font-size="31.31" textLength="74.51" lengthAdjust="spacingAndGlyphs">(001)</text>
<text x="1013.00" y="43.80" font-size="31.31" textLength="73.20" lengthAdjust="spacingAndGlyphs">(001)</text>
<text x="726.20" y="55.40" font-size="41.07" textLength="18.85" lengthAdjust="spacingAndGlyphs">a</text>
<text x="1213.60" y="54.80" font-size="40.90" textLength="24.30" lengthAdjust="spacingAndGlyphs">b</text>
</g>
</svg></body></html>
